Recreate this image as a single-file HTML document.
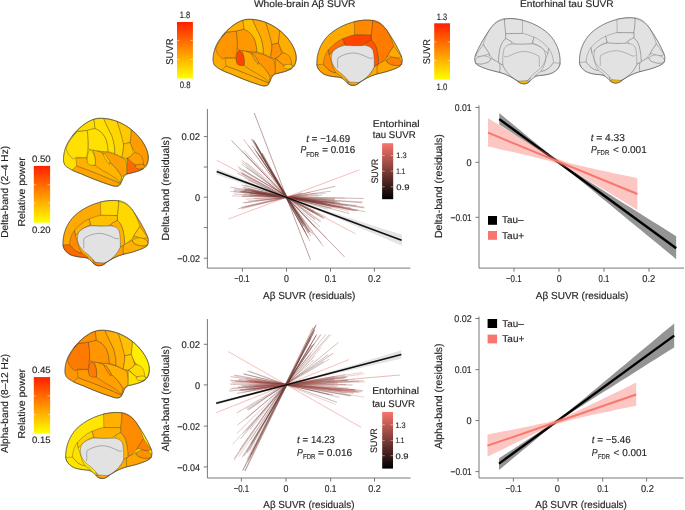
<!DOCTYPE html><html><head><meta charset="utf-8"><style>html,body{margin:0;padding:0;background:#fff;overflow:hidden}svg{display:block;will-change:transform}</style></head><body><svg width="685" height="510" viewBox="0 0 685 510" font-family="Liberation Sans, sans-serif" text-rendering="geometricPrecision"><style>text{stroke:#231f20;stroke-width:0.15px;paint-order:stroke}</style>
<rect width="685" height="510" fill="#fff"/>
<text x="253.90" y="7.40" font-size="9.8" textLength="101.60" lengthAdjust="spacingAndGlyphs" fill="#231f20">Whole-brain Aβ SUVR</text>
<text x="520.00" y="7.30" font-size="9.8" textLength="93.60" lengthAdjust="spacingAndGlyphs" fill="#231f20">Entorhinal tau SUVR</text>
<defs><linearGradient id="g1" x1="0" y1="0" x2="0" y2="1"><stop offset="0" stop-color="#ff1e00"/><stop offset="0.5" stop-color="#ff8f00"/><stop offset="1" stop-color="#ffff00"/></linearGradient></defs>
<rect x="177" y="22" width="15.9" height="56.5" fill="url(#g1)"/>
<line x1="177" y1="40.6" x2="179.5" y2="40.6" stroke="#fff" stroke-width="0.6" opacity="0.8"/>
<line x1="190.4" y1="40.6" x2="192.9" y2="40.6" stroke="#fff" stroke-width="0.6" opacity="0.8"/>
<line x1="177" y1="59.5" x2="179.5" y2="59.5" stroke="#fff" stroke-width="0.6" opacity="0.8"/>
<line x1="190.4" y1="59.5" x2="192.9" y2="59.5" stroke="#fff" stroke-width="0.6" opacity="0.8"/>
<text x="179.80" y="17.90" font-size="9.2" textLength="10.40" lengthAdjust="spacingAndGlyphs" fill="#231f20">1.8</text>
<text x="179.80" y="87.60" font-size="9.2" textLength="10.80" lengthAdjust="spacingAndGlyphs" fill="#231f20">0.8</text>
<text transform="translate(173.20,64.80) rotate(-90)" x="0.00" y="0" font-size="9.8" textLength="26.31" lengthAdjust="spacingAndGlyphs" fill="#231f20">SUVR</text>
<defs><linearGradient id="g2" x1="0" y1="0" x2="0" y2="1"><stop offset="0" stop-color="#ff1e00"/><stop offset="0.5" stop-color="#ff8f00"/><stop offset="1" stop-color="#ffff00"/></linearGradient></defs>
<rect x="434.2" y="23.3" width="15.8" height="56.4" fill="url(#g2)"/>
<line x1="434.2" y1="41.9" x2="436.7" y2="41.9" stroke="#fff" stroke-width="0.6" opacity="0.8"/>
<line x1="447.5" y1="41.9" x2="450.0" y2="41.9" stroke="#fff" stroke-width="0.6" opacity="0.8"/>
<line x1="434.2" y1="60.6" x2="436.7" y2="60.6" stroke="#fff" stroke-width="0.6" opacity="0.8"/>
<line x1="447.5" y1="60.6" x2="450.0" y2="60.6" stroke="#fff" stroke-width="0.6" opacity="0.8"/>
<text x="436.80" y="19.50" font-size="9.2" textLength="10.40" lengthAdjust="spacingAndGlyphs" fill="#231f20">1.3</text>
<text x="436.60" y="89.60" font-size="9.2" textLength="10.80" lengthAdjust="spacingAndGlyphs" fill="#231f20">1.0</text>
<text transform="translate(429.90,64.30) rotate(-90)" x="0.00" y="0" font-size="9.8" textLength="25.21" lengthAdjust="spacingAndGlyphs" fill="#231f20">SUVR</text>
<defs><linearGradient id="g3" x1="0" y1="0" x2="0" y2="1"><stop offset="0" stop-color="#ff1e00"/><stop offset="0.5" stop-color="#ff8f00"/><stop offset="1" stop-color="#ffff00"/></linearGradient></defs>
<rect x="33.8" y="165.9" width="16.3" height="56.8" fill="url(#g3)"/>
<line x1="33.8" y1="184.8" x2="36.3" y2="184.8" stroke="#fff" stroke-width="0.6" opacity="0.8"/>
<line x1="47.599999999999994" y1="184.8" x2="50.099999999999994" y2="184.8" stroke="#fff" stroke-width="0.6" opacity="0.8"/>
<line x1="33.8" y1="202.9" x2="36.3" y2="202.9" stroke="#fff" stroke-width="0.6" opacity="0.8"/>
<line x1="47.599999999999994" y1="202.9" x2="50.099999999999994" y2="202.9" stroke="#fff" stroke-width="0.6" opacity="0.8"/>
<text x="31.90" y="162.00" font-size="9.2" textLength="18.69" lengthAdjust="spacingAndGlyphs" fill="#231f20">0.50</text>
<text x="32.00" y="232.90" font-size="9.2" textLength="18.59" lengthAdjust="spacingAndGlyphs" fill="#231f20">0.20</text>
<text transform="translate(8.30,237.80) rotate(-90)" x="0.00" y="0" font-size="10" textLength="92.00" lengthAdjust="spacingAndGlyphs" fill="#231f20">Delta-band (2–4 Hz)</text>
<text transform="translate(25.20,226.60) rotate(-90)" x="0.00" y="0" font-size="10" textLength="69.39" lengthAdjust="spacingAndGlyphs" fill="#231f20">Relative power</text>
<defs><linearGradient id="g4" x1="0" y1="0" x2="0" y2="1"><stop offset="0" stop-color="#ff1e00"/><stop offset="0.5" stop-color="#ff8f00"/><stop offset="1" stop-color="#ffff00"/></linearGradient></defs>
<rect x="33.8" y="377.1" width="16.3" height="56.4" fill="url(#g4)"/>
<line x1="33.8" y1="395.9" x2="36.3" y2="395.9" stroke="#fff" stroke-width="0.6" opacity="0.8"/>
<line x1="47.599999999999994" y1="395.9" x2="50.099999999999994" y2="395.9" stroke="#fff" stroke-width="0.6" opacity="0.8"/>
<line x1="33.8" y1="414.7" x2="36.3" y2="414.7" stroke="#fff" stroke-width="0.6" opacity="0.8"/>
<line x1="47.599999999999994" y1="414.7" x2="50.099999999999994" y2="414.7" stroke="#fff" stroke-width="0.6" opacity="0.8"/>
<text x="31.90" y="372.60" font-size="9.2" textLength="18.69" lengthAdjust="spacingAndGlyphs" fill="#231f20">0.45</text>
<text x="32.00" y="443.40" font-size="9.2" textLength="18.59" lengthAdjust="spacingAndGlyphs" fill="#231f20">0.15</text>
<text transform="translate(8.30,452.90) rotate(-90)" x="0.00" y="0" font-size="10" textLength="99.09" lengthAdjust="spacingAndGlyphs" fill="#231f20">Alpha-band (8–12 Hz)</text>
<text transform="translate(25.20,438.50) rotate(-90)" x="0.00" y="0" font-size="10" textLength="69.59" lengthAdjust="spacingAndGlyphs" fill="#231f20">Relative power</text>
<g transform="translate(208,14) scale(0.1528350909368791)">
<path d="M33,300 C33,250 50,200 85,155 C120,105 180,50 250,35 C320,28 400,55 460,100 C520,145 565,210 576,270 C582,310 570,345 540,362 C510,378 470,385 440,392 C420,400 410,430 398,458 C390,472 370,474 350,468 C300,452 230,428 150,392 C105,375 65,360 42,335 C36,325 33,312 33,300 Z" fill="#ffaa00" stroke="#3a3a3a" stroke-width="0.35" vector-effect="non-scaling-stroke" stroke-linejoin="round"/>
<path d="M90,368 C100,355 110,345 118,340 C200,368 300,410 398,452 C392,468 375,474 350,468 C300,452 230,428 150,392 C125,383 105,376 90,368 Z" fill="#ffad00" stroke="#3a3a3a" stroke-width="0.35" vector-effect="non-scaling-stroke" stroke-linejoin="round"/>
<path d="M118,340 C116,320 114,300 112,290 L180,287 C195,320 210,335 235,335 C245,330 250,327 250,325 C280,335 310,350 340,370 C370,390 395,410 412,432 C405,442 400,448 398,452 C300,410 200,368 118,340 Z" fill="#ffaa00" stroke="#3a3a3a" stroke-width="0.35" vector-effect="non-scaling-stroke" stroke-linejoin="round"/>
<path d="M221,237 C265,244 300,250 330,256 C370,266 405,282 430,298 C440,330 442,360 440,392 C428,398 416,404 406,410 C390,376 360,340 330,318 C315,290 300,270 284,258 C265,250 240,242 221,237 Z" fill="#ff9600" stroke="#3a3a3a" stroke-width="0.35" vector-effect="non-scaling-stroke" stroke-linejoin="round"/>
<path d="M221,237 C245,241 268,250 284,258 C300,270 315,290 330,318 C360,340 390,376 406,410 C405,425 402,437 399,447 C385,432 370,420 354,411 C330,395 305,380 284,370 C265,357 250,346 235,336 C240,300 234,265 221,237 Z" fill="#ffaa00" stroke="#3a3a3a" stroke-width="0.35" vector-effect="non-scaling-stroke" stroke-linejoin="round"/>
<path d="M284,260 C292,262 298,264 302,266 C312,280 322,296 331,312 C331,320 330,326 328,330 C321,321 315,313 310,307 C300,290 290,273 284,260 Z" fill="#ffa000" stroke="#3a3a3a" stroke-width="0.35" vector-effect="non-scaling-stroke" stroke-linejoin="round"/>
<path d="M50,228 C62,192 88,152 122,120 L185,112 C192,150 193,200 190,230 C188,255 184,275 180,287 L118,285 C108,288 102,292 98,296 C76,282 58,262 50,228 Z" fill="#ff9500" stroke="#3a3a3a" stroke-width="0.35" vector-effect="non-scaling-stroke" stroke-linejoin="round"/>
<path d="M90,150 C125,105 180,55 228,40 C232,60 234,80 236,100 C220,104 200,108 185,112 L122,118 C110,128 100,138 90,150 Z" fill="#ffb000" stroke="#3a3a3a" stroke-width="0.35" vector-effect="non-scaling-stroke" stroke-linejoin="round"/>
<path d="M185,112 L236,100 C262,108 285,130 300,155 C312,180 318,210 320,248 C300,250 270,246 240,242 C225,238 205,236 192,232 C194,190 192,150 185,112 Z" fill="#ff9800" stroke="#3a3a3a" stroke-width="0.35" vector-effect="non-scaling-stroke" stroke-linejoin="round"/>
<path d="M228,40 C250,36 275,35 292,37 C305,70 325,110 345,150 C358,190 365,230 362,262 C350,258 335,252 320,248 C318,210 312,180 300,155 C285,130 262,108 236,100 C234,80 232,60 228,40 Z" fill="#ffbe00" stroke="#3a3a3a" stroke-width="0.35" vector-effect="non-scaling-stroke" stroke-linejoin="round"/>
<path d="M292,37 C320,39 350,45 378,55 C392,95 405,140 418,190 C420,220 415,250 408,285 C390,275 375,268 362,262 C365,230 358,190 345,150 C325,110 305,70 292,37 Z" fill="#ffaa00" stroke="#3a3a3a" stroke-width="0.35" vector-effect="non-scaling-stroke" stroke-linejoin="round"/>
<path d="M378,55 C410,68 440,85 468,108 C468,140 465,170 460,190 L418,200 C410,160 395,110 378,55 Z" fill="#ffa800" stroke="#3a3a3a" stroke-width="0.35" vector-effect="non-scaling-stroke" stroke-linejoin="round"/>
<path d="M468,108 C515,145 560,200 574,255 C580,290 575,320 560,340 L545,335 C540,300 520,270 495,255 C480,240 470,215 460,190 C465,165 468,135 468,108 Z" fill="#ffad00" stroke="#3a3a3a" stroke-width="0.35" vector-effect="non-scaling-stroke" stroke-linejoin="round"/>
<path d="M418,200 L460,190 C470,215 478,235 482,258 C470,275 455,285 440,292 C425,290 412,288 408,285 C415,255 420,225 418,200 Z" fill="#ff9000" stroke="#3a3a3a" stroke-width="0.35" vector-effect="non-scaling-stroke" stroke-linejoin="round"/>
<path d="M482,258 C500,252 520,262 535,280 C545,300 548,320 545,335 L495,335 C480,325 465,310 455,300 C450,295 445,293 440,292 C455,285 470,275 482,258 Z" fill="#ffa000" stroke="#3a3a3a" stroke-width="0.35" vector-effect="non-scaling-stroke" stroke-linejoin="round"/>
<path d="M440,292 C455,300 470,320 495,335 C505,345 520,356 545,358 C510,376 470,385 440,392 C442,360 442,320 440,292 Z" fill="#ff9c00" stroke="#3a3a3a" stroke-width="0.35" vector-effect="non-scaling-stroke" stroke-linejoin="round"/>
<path d="M492,340 C510,328 540,325 552,335 C556,348 545,358 525,360 C505,360 492,352 492,340 Z" fill="#ffc000" stroke="#3a3a3a" stroke-width="0.35" vector-effect="non-scaling-stroke" stroke-linejoin="round"/>
<path d="M203,238 C215,240 225,255 232,275 C238,295 240,320 235,335 C220,338 200,337 192,328 C184,315 183,295 187,275 C190,255 195,242 203,238 Z" fill="#ff4500" stroke="#3a3a3a" stroke-width="0.35" vector-effect="non-scaling-stroke" stroke-linejoin="round"/>
<path d="M33,300 C33,250 50,200 85,155 C120,105 180,50 250,35 C320,28 400,55 460,100 C520,145 565,210 576,270 C582,310 570,345 540,362 C510,378 470,385 440,392 C420,400 410,430 398,458 C390,472 370,474 350,468 C300,452 230,428 150,392 C105,375 65,360 42,335 C36,325 33,312 33,300 Z" fill="none" stroke="#3a3a3a" stroke-width="0.44999999999999996" vector-effect="non-scaling-stroke"/>
</g>
<g transform="translate(310,14) scale(0.1528350909368791)">
<path d="M45,330 C42,260 70,190 120,140 C180,85 260,50 350,40 C420,35 470,60 505,110 C540,160 575,220 598,275 C608,300 605,325 590,340 C560,360 500,378 440,392 C390,405 350,430 315,455 C295,470 265,473 244,451 C225,430 210,415 180,412 C130,410 80,395 58,365 C48,352 45,340 45,330 Z" fill="#ffaa00" stroke="#3a3a3a" stroke-width="0.35" vector-effect="non-scaling-stroke" stroke-linejoin="round"/>
<path d="M290,48 C330,42 370,38 410,40 C410,75 405,110 401,139 C370,138 330,137 292,137 Z" fill="#ff8800" stroke="#3a3a3a" stroke-width="0.35" vector-effect="non-scaling-stroke" stroke-linejoin="round"/>
<path d="M410,40 C450,45 480,70 505,110 C525,145 540,180 548,210 C530,240 512,260 505,280 C490,300 470,315 448,330 C448,300 445,260 435,225 C428,200 415,185 401,170 L401,139 C405,110 410,75 410,40 Z" fill="#ff7a00" stroke="#3a3a3a" stroke-width="0.35" vector-effect="non-scaling-stroke" stroke-linejoin="round"/>
<path d="M548,210 C565,235 585,260 598,280 C585,290 560,290 540,282 C528,276 515,270 505,280 C512,260 530,240 548,210 Z" fill="#ffaa00" stroke="#3a3a3a" stroke-width="0.35" vector-effect="non-scaling-stroke" stroke-linejoin="round"/>
<path d="M440,330 C470,315 490,305 500,300 C500,315 512,325 530,330 C555,338 580,340 600,330 C590,345 560,360 500,378 C470,385 450,390 440,392 C435,370 435,350 440,330 Z" fill="#ffa500" stroke="#3a3a3a" stroke-width="0.35" vector-effect="non-scaling-stroke" stroke-linejoin="round"/>
<path d="M500,300 C520,282 550,280 575,290 C595,298 605,315 600,330 C580,340 550,338 530,330 C512,325 500,315 500,300 Z" fill="#ff8000" stroke="#3a3a3a" stroke-width="0.35" vector-effect="non-scaling-stroke" stroke-linejoin="round"/>
<path d="M215,162 C250,148 275,138 292,137 C330,137 370,138 401,139 L401,170 C390,178 380,183 372,186 C360,196 350,203 340,207 C300,209 260,207 228,205 C224,190 220,175 215,162 Z" fill="#ff4400" stroke="#3a3a3a" stroke-width="0.35" vector-effect="non-scaling-stroke" stroke-linejoin="round"/>
<path d="M360,195 C375,182 390,175 401,170 C415,185 428,200 435,225 C445,260 448,300 448,330 C440,337 432,342 420,345 C415,300 400,240 360,195 Z" fill="#ff5500" stroke="#3a3a3a" stroke-width="0.35" vector-effect="non-scaling-stroke" stroke-linejoin="round"/>
<path d="M120,235 C140,210 175,180 215,160 C218,172 222,185 225,200 C195,210 170,225 150,245 C140,255 130,265 125,270 Z" fill="#ff7000" stroke="#3a3a3a" stroke-width="0.35" vector-effect="non-scaling-stroke" stroke-linejoin="round"/>
<path d="M88,328 C90,295 100,260 120,235 L125,270 C135,290 140,310 145,330 C150,350 160,370 170,385 C140,385 110,360 88,328 Z" fill="#ff8c00" stroke="#3a3a3a" stroke-width="0.35" vector-effect="non-scaling-stroke" stroke-linejoin="round"/>
<path d="M45,330 C55,332 70,330 88,328 C110,360 140,385 170,385 C185,395 200,405 210,415 C180,412 130,410 95,398 C70,385 50,360 45,330 Z" fill="#ffa000" stroke="#3a3a3a" stroke-width="0.35" vector-effect="non-scaling-stroke" stroke-linejoin="round"/>
<path d="M240,425 C250,440 265,452 285,455 C305,455 330,445 350,430 C380,410 405,380 420,345 C428,342 434,338 440,330 C438,350 436,370 440,392 C390,405 350,430 315,455 C295,470 265,473 244,451 Z" fill="#ffaa00" stroke="#3a3a3a" stroke-width="0.35" vector-effect="non-scaling-stroke" stroke-linejoin="round"/>
<path d="M150,245 C170,225 195,212 228,205 C260,207 300,209 340,207 C370,205 398,210 412,238 C420,270 422,310 420,345 C405,380 380,410 350,430 C330,445 305,455 285,455 C265,452 250,440 240,425 C225,405 205,390 185,375 C160,355 145,330 140,300 C138,280 142,260 150,245 Z" fill="#e2e2e2" stroke="#3a3a3a" stroke-width="0.35" vector-effect="non-scaling-stroke" stroke-linejoin="round"/>
<path d="M243,449 C262,444 295,445 322,452 C305,470 268,474 243,449 Z" fill="#ffa500" stroke="#3a3a3a" stroke-width="0.35" vector-effect="non-scaling-stroke" stroke-linejoin="round"/>
<path d="M180,355 C185,330 175,300 185,285 C220,265 250,255 290,255 C320,258 350,270 380,285 C395,292 405,292 412,285" fill="none" stroke="#3a3a3a" stroke-width="0.35" vector-effect="non-scaling-stroke"/>
<path d="M45,330 C42,260 70,190 120,140 C180,85 260,50 350,40 C420,35 470,60 505,110 C540,160 575,220 598,275 C608,300 605,325 590,340 C560,360 500,378 440,392 C390,405 350,430 315,455 C295,470 265,473 244,451 C225,430 210,415 180,412 C130,410 80,395 58,365 C48,352 45,340 45,330 Z" fill="none" stroke="#3a3a3a" stroke-width="0.44999999999999996" vector-effect="non-scaling-stroke"/>
</g>
<g transform="translate(58.3,112.9) scale(0.15589179275561668)">
<path d="M33,300 C33,250 50,200 85,155 C120,105 180,50 250,35 C320,28 400,55 460,100 C520,145 565,210 576,270 C582,310 570,345 540,362 C510,378 470,385 440,392 C420,400 410,430 398,458 C390,472 370,474 350,468 C300,452 230,428 150,392 C105,375 65,360 42,335 C36,325 33,312 33,300 Z" fill="#ffe000" stroke="#3a3a3a" stroke-width="0.35" vector-effect="non-scaling-stroke" stroke-linejoin="round"/>
<path d="M90,368 C100,355 110,345 118,340 C200,368 300,410 398,452 C392,468 375,474 350,468 C300,452 230,428 150,392 C125,383 105,376 90,368 Z" fill="#ffa500" stroke="#3a3a3a" stroke-width="0.35" vector-effect="non-scaling-stroke" stroke-linejoin="round"/>
<path d="M118,340 C116,320 114,300 112,290 L180,287 C195,320 210,335 235,335 C245,330 250,327 250,325 C280,335 310,350 340,370 C370,390 395,410 412,432 C405,442 400,448 398,452 C300,410 200,368 118,340 Z" fill="#ffb000" stroke="#3a3a3a" stroke-width="0.35" vector-effect="non-scaling-stroke" stroke-linejoin="round"/>
<path d="M221,237 C265,244 300,250 330,256 C370,266 405,282 430,298 C440,330 442,360 440,392 C428,398 416,404 406,410 C390,376 360,340 330,318 C315,290 300,270 284,258 C265,250 240,242 221,237 Z" fill="#ffa000" stroke="#3a3a3a" stroke-width="0.35" vector-effect="non-scaling-stroke" stroke-linejoin="round"/>
<path d="M221,237 C245,241 268,250 284,258 C300,270 315,290 330,318 C360,340 390,376 406,410 C405,425 402,437 399,447 C385,432 370,420 354,411 C330,395 305,380 284,370 C265,357 250,346 235,336 C240,300 234,265 221,237 Z" fill="#ffb400" stroke="#3a3a3a" stroke-width="0.35" vector-effect="non-scaling-stroke" stroke-linejoin="round"/>
<path d="M284,260 C292,262 298,264 302,266 C312,280 322,296 331,312 C331,320 330,326 328,330 C321,321 315,313 310,307 C300,290 290,273 284,260 Z" fill="#ffd000" stroke="#3a3a3a" stroke-width="0.35" vector-effect="non-scaling-stroke" stroke-linejoin="round"/>
<path d="M50,228 C62,192 88,152 122,120 L185,112 C192,150 193,200 190,230 C188,255 184,275 180,287 L118,285 C108,288 102,292 98,296 C76,282 58,262 50,228 Z" fill="#ffe000" stroke="#3a3a3a" stroke-width="0.35" vector-effect="non-scaling-stroke" stroke-linejoin="round"/>
<path d="M90,150 C125,105 180,55 228,40 C232,60 234,80 236,100 C220,104 200,108 185,112 L122,118 C110,128 100,138 90,150 Z" fill="#ffdc00" stroke="#3a3a3a" stroke-width="0.35" vector-effect="non-scaling-stroke" stroke-linejoin="round"/>
<path d="M185,112 L236,100 C262,108 285,130 300,155 C312,180 318,210 320,248 C300,250 270,246 240,242 C225,238 205,236 192,232 C194,190 192,150 185,112 Z" fill="#ffe000" stroke="#3a3a3a" stroke-width="0.35" vector-effect="non-scaling-stroke" stroke-linejoin="round"/>
<path d="M228,40 C250,36 275,35 292,37 C305,70 325,110 345,150 C358,190 365,230 362,262 C350,258 335,252 320,248 C318,210 312,180 300,155 C285,130 262,108 236,100 C234,80 232,60 228,40 Z" fill="#ffe000" stroke="#3a3a3a" stroke-width="0.35" vector-effect="non-scaling-stroke" stroke-linejoin="round"/>
<path d="M292,37 C320,39 350,45 378,55 C392,95 405,140 418,190 C420,220 415,250 408,285 C390,275 375,268 362,262 C365,230 358,190 345,150 C325,110 305,70 292,37 Z" fill="#ffd500" stroke="#3a3a3a" stroke-width="0.35" vector-effect="non-scaling-stroke" stroke-linejoin="round"/>
<path d="M378,55 C410,68 440,85 468,108 C468,140 465,170 460,190 L418,200 C410,160 395,110 378,55 Z" fill="#ffc800" stroke="#3a3a3a" stroke-width="0.35" vector-effect="non-scaling-stroke" stroke-linejoin="round"/>
<path d="M468,108 C515,145 560,200 574,255 C580,290 575,320 560,340 L545,335 C540,300 520,270 495,255 C480,240 470,215 460,190 C465,165 468,135 468,108 Z" fill="#ff9a00" stroke="#3a3a3a" stroke-width="0.35" vector-effect="non-scaling-stroke" stroke-linejoin="round"/>
<path d="M418,200 L460,190 C470,215 478,235 482,258 C470,275 455,285 440,292 C425,290 412,288 408,285 C415,255 420,225 418,200 Z" fill="#ffc000" stroke="#3a3a3a" stroke-width="0.35" vector-effect="non-scaling-stroke" stroke-linejoin="round"/>
<path d="M482,258 C500,252 520,262 535,280 C545,300 548,320 545,335 L495,335 C480,325 465,310 455,300 C450,295 445,293 440,292 C455,285 470,275 482,258 Z" fill="#ffa000" stroke="#3a3a3a" stroke-width="0.35" vector-effect="non-scaling-stroke" stroke-linejoin="round"/>
<path d="M440,292 C455,300 470,320 495,335 C505,345 520,356 545,358 C510,376 470,385 440,392 C442,360 442,320 440,292 Z" fill="#ff6a00" stroke="#3a3a3a" stroke-width="0.35" vector-effect="non-scaling-stroke" stroke-linejoin="round"/>
<path d="M492,340 C510,328 540,325 552,335 C556,348 545,358 525,360 C505,360 492,352 492,340 Z" fill="#ff9000" stroke="#3a3a3a" stroke-width="0.35" vector-effect="non-scaling-stroke" stroke-linejoin="round"/>
<path d="M203,238 C215,240 225,255 232,275 C238,295 240,320 235,335 C220,338 200,337 192,328 C184,315 183,295 187,275 C190,255 195,242 203,238 Z" fill="#ffd800" stroke="#3a3a3a" stroke-width="0.35" vector-effect="non-scaling-stroke" stroke-linejoin="round"/>
<path d="M33,300 C33,250 50,200 85,155 C120,105 180,50 250,35 C320,28 400,55 460,100 C520,145 565,210 576,270 C582,310 570,345 540,362 C510,378 470,385 440,392 C420,400 410,430 398,458 C390,472 370,474 350,468 C300,452 230,428 150,392 C105,375 65,360 42,335 C36,325 33,312 33,300 Z" fill="none" stroke="#3a3a3a" stroke-width="0.44999999999999996" vector-effect="non-scaling-stroke"/>
</g>
<g transform="translate(56.1,194.4) scale(0.1528350909368791)">
<path d="M45,330 C42,260 70,190 120,140 C180,85 260,50 350,40 C420,35 470,60 505,110 C540,160 575,220 598,275 C608,300 605,325 590,340 C560,360 500,378 440,392 C390,405 350,430 315,455 C295,470 265,473 244,451 C225,430 210,415 180,412 C130,410 80,395 58,365 C48,352 45,340 45,330 Z" fill="#ffaa00" stroke="#3a3a3a" stroke-width="0.35" vector-effect="non-scaling-stroke" stroke-linejoin="round"/>
<path d="M290,48 C330,42 370,38 410,40 C410,75 405,110 401,139 C370,138 330,137 292,137 Z" fill="#ffd800" stroke="#3a3a3a" stroke-width="0.35" vector-effect="non-scaling-stroke" stroke-linejoin="round"/>
<path d="M410,40 C450,45 480,70 505,110 C525,145 540,180 548,210 C530,240 512,260 505,280 C490,300 470,315 448,330 C448,300 445,260 435,225 C428,200 415,185 401,170 L401,139 C405,110 410,75 410,40 Z" fill="#ffd800" stroke="#3a3a3a" stroke-width="0.35" vector-effect="non-scaling-stroke" stroke-linejoin="round"/>
<path d="M548,210 C565,235 585,260 598,280 C585,290 560,290 540,282 C528,276 515,270 505,280 C512,260 530,240 548,210 Z" fill="#ffc800" stroke="#3a3a3a" stroke-width="0.35" vector-effect="non-scaling-stroke" stroke-linejoin="round"/>
<path d="M440,330 C470,315 490,305 500,300 C500,315 512,325 530,330 C555,338 580,340 600,330 C590,345 560,360 500,378 C470,385 450,390 440,392 C435,370 435,350 440,330 Z" fill="#ffb000" stroke="#3a3a3a" stroke-width="0.35" vector-effect="non-scaling-stroke" stroke-linejoin="round"/>
<path d="M500,300 C520,282 550,280 575,290 C595,298 605,315 600,330 C580,340 550,338 530,330 C512,325 500,315 500,300 Z" fill="#ffc000" stroke="#3a3a3a" stroke-width="0.35" vector-effect="non-scaling-stroke" stroke-linejoin="round"/>
<path d="M215,162 C250,148 275,138 292,137 C330,137 370,138 401,139 L401,170 C390,178 380,183 372,186 C360,196 350,203 340,207 C300,209 260,207 228,205 C224,190 220,175 215,162 Z" fill="#ffc000" stroke="#3a3a3a" stroke-width="0.35" vector-effect="non-scaling-stroke" stroke-linejoin="round"/>
<path d="M360,195 C375,182 390,175 401,170 C415,185 428,200 435,225 C445,260 448,300 448,330 C440,337 432,342 420,345 C415,300 400,240 360,195 Z" fill="#ffb000" stroke="#3a3a3a" stroke-width="0.35" vector-effect="non-scaling-stroke" stroke-linejoin="round"/>
<path d="M120,235 C140,210 175,180 215,160 C218,172 222,185 225,200 C195,210 170,225 150,245 C140,255 130,265 125,270 Z" fill="#ffb000" stroke="#3a3a3a" stroke-width="0.35" vector-effect="non-scaling-stroke" stroke-linejoin="round"/>
<path d="M88,328 C90,295 100,260 120,235 L125,270 C135,290 140,310 145,330 C150,350 160,370 170,385 C140,385 110,360 88,328 Z" fill="#ff8c00" stroke="#3a3a3a" stroke-width="0.35" vector-effect="non-scaling-stroke" stroke-linejoin="round"/>
<path d="M45,330 C55,332 70,330 88,328 C110,360 140,385 170,385 C185,395 200,405 210,415 C180,412 130,410 95,398 C70,385 50,360 45,330 Z" fill="#ff6a00" stroke="#3a3a3a" stroke-width="0.35" vector-effect="non-scaling-stroke" stroke-linejoin="round"/>
<path d="M240,425 C250,440 265,452 285,455 C305,455 330,445 350,430 C380,410 405,380 420,345 C428,342 434,338 440,330 C438,350 436,370 440,392 C390,405 350,430 315,455 C295,470 265,473 244,451 Z" fill="#ffa000" stroke="#3a3a3a" stroke-width="0.35" vector-effect="non-scaling-stroke" stroke-linejoin="round"/>
<path d="M150,245 C170,225 195,212 228,205 C260,207 300,209 340,207 C370,205 398,210 412,238 C420,270 422,310 420,345 C405,380 380,410 350,430 C330,445 305,455 285,455 C265,452 250,440 240,425 C225,405 205,390 185,375 C160,355 145,330 140,300 C138,280 142,260 150,245 Z" fill="#e2e2e2" stroke="#3a3a3a" stroke-width="0.35" vector-effect="non-scaling-stroke" stroke-linejoin="round"/>
<path d="M243,449 C262,444 295,445 322,452 C305,470 268,474 243,449 Z" fill="#ff8000" stroke="#3a3a3a" stroke-width="0.35" vector-effect="non-scaling-stroke" stroke-linejoin="round"/>
<path d="M180,355 C185,330 175,300 185,285 C220,265 250,255 290,255 C320,258 350,270 380,285 C395,292 405,292 412,285" fill="none" stroke="#3a3a3a" stroke-width="0.35" vector-effect="non-scaling-stroke"/>
<path d="M45,330 C42,260 70,190 120,140 C180,85 260,50 350,40 C420,35 470,60 505,110 C540,160 575,220 598,275 C608,300 605,325 590,340 C560,360 500,378 440,392 C390,405 350,430 315,455 C295,470 265,473 244,451 C225,430 210,415 180,412 C130,410 80,395 58,365 C48,352 45,340 45,330 Z" fill="none" stroke="#3a3a3a" stroke-width="0.44999999999999996" vector-effect="non-scaling-stroke"/>
</g>
<g transform="translate(59.8,324.9) scale(0.15512761730093227)">
<path d="M33,300 C33,250 50,200 85,155 C120,105 180,50 250,35 C320,28 400,55 460,100 C520,145 565,210 576,270 C582,310 570,345 540,362 C510,378 470,385 440,392 C420,400 410,430 398,458 C390,472 370,474 350,468 C300,452 230,428 150,392 C105,375 65,360 42,335 C36,325 33,312 33,300 Z" fill="#ff9500" stroke="#3a3a3a" stroke-width="0.35" vector-effect="non-scaling-stroke" stroke-linejoin="round"/>
<path d="M90,368 C100,355 110,345 118,340 C200,368 300,410 398,452 C392,468 375,474 350,468 C300,452 230,428 150,392 C125,383 105,376 90,368 Z" fill="#ffa200" stroke="#3a3a3a" stroke-width="0.35" vector-effect="non-scaling-stroke" stroke-linejoin="round"/>
<path d="M118,340 C116,320 114,300 112,290 L180,287 C195,320 210,335 235,335 C245,330 250,327 250,325 C280,335 310,350 340,370 C370,390 395,410 412,432 C405,442 400,448 398,452 C300,410 200,368 118,340 Z" fill="#ff9800" stroke="#3a3a3a" stroke-width="0.35" vector-effect="non-scaling-stroke" stroke-linejoin="round"/>
<path d="M221,237 C265,244 300,250 330,256 C370,266 405,282 430,298 C440,330 442,360 440,392 C428,398 416,404 406,410 C390,376 360,340 330,318 C315,290 300,270 284,258 C265,250 240,242 221,237 Z" fill="#ffb000" stroke="#3a3a3a" stroke-width="0.35" vector-effect="non-scaling-stroke" stroke-linejoin="round"/>
<path d="M221,237 C245,241 268,250 284,258 C300,270 315,290 330,318 C360,340 390,376 406,410 C405,425 402,437 399,447 C385,432 370,420 354,411 C330,395 305,380 284,370 C265,357 250,346 235,336 C240,300 234,265 221,237 Z" fill="#ffa000" stroke="#3a3a3a" stroke-width="0.35" vector-effect="non-scaling-stroke" stroke-linejoin="round"/>
<path d="M284,260 C292,262 298,264 302,266 C312,280 322,296 331,312 C331,320 330,326 328,330 C321,321 315,313 310,307 C300,290 290,273 284,260 Z" fill="#ff8c00" stroke="#3a3a3a" stroke-width="0.35" vector-effect="non-scaling-stroke" stroke-linejoin="round"/>
<path d="M50,228 C62,192 88,152 122,120 L185,112 C192,150 193,200 190,230 C188,255 184,275 180,287 L118,285 C108,288 102,292 98,296 C76,282 58,262 50,228 Z" fill="#ff7a00" stroke="#3a3a3a" stroke-width="0.35" vector-effect="non-scaling-stroke" stroke-linejoin="round"/>
<path d="M90,150 C125,105 180,55 228,40 C232,60 234,80 236,100 C220,104 200,108 185,112 L122,118 C110,128 100,138 90,150 Z" fill="#ff9000" stroke="#3a3a3a" stroke-width="0.35" vector-effect="non-scaling-stroke" stroke-linejoin="round"/>
<path d="M185,112 L236,100 C262,108 285,130 300,155 C312,180 318,210 320,248 C300,250 270,246 240,242 C225,238 205,236 192,232 C194,190 192,150 185,112 Z" fill="#ff9500" stroke="#3a3a3a" stroke-width="0.35" vector-effect="non-scaling-stroke" stroke-linejoin="round"/>
<path d="M228,40 C250,36 275,35 292,37 C305,70 325,110 345,150 C358,190 365,230 362,262 C350,258 335,252 320,248 C318,210 312,180 300,155 C285,130 262,108 236,100 C234,80 232,60 228,40 Z" fill="#ffa500" stroke="#3a3a3a" stroke-width="0.35" vector-effect="non-scaling-stroke" stroke-linejoin="round"/>
<path d="M292,37 C320,39 350,45 378,55 C392,95 405,140 418,190 C420,220 415,250 408,285 C390,275 375,268 362,262 C365,230 358,190 345,150 C325,110 305,70 292,37 Z" fill="#ffb000" stroke="#3a3a3a" stroke-width="0.35" vector-effect="non-scaling-stroke" stroke-linejoin="round"/>
<path d="M378,55 C410,68 440,85 468,108 C468,140 465,170 460,190 L418,200 C410,160 395,110 378,55 Z" fill="#ffc000" stroke="#3a3a3a" stroke-width="0.35" vector-effect="non-scaling-stroke" stroke-linejoin="round"/>
<path d="M468,108 C515,145 560,200 574,255 C580,290 575,320 560,340 L545,335 C540,300 520,270 495,255 C480,240 470,215 460,190 C465,165 468,135 468,108 Z" fill="#ffee00" stroke="#3a3a3a" stroke-width="0.35" vector-effect="non-scaling-stroke" stroke-linejoin="round"/>
<path d="M418,200 L460,190 C470,215 478,235 482,258 C470,275 455,285 440,292 C425,290 412,288 408,285 C415,255 420,225 418,200 Z" fill="#ffc800" stroke="#3a3a3a" stroke-width="0.35" vector-effect="non-scaling-stroke" stroke-linejoin="round"/>
<path d="M482,258 C500,252 520,262 535,280 C545,300 548,320 545,335 L495,335 C480,325 465,310 455,300 C450,295 445,293 440,292 C455,285 470,275 482,258 Z" fill="#ffd800" stroke="#3a3a3a" stroke-width="0.35" vector-effect="non-scaling-stroke" stroke-linejoin="round"/>
<path d="M440,292 C455,300 470,320 495,335 C505,345 520,356 545,358 C510,376 470,385 440,392 C442,360 442,320 440,292 Z" fill="#ffe000" stroke="#3a3a3a" stroke-width="0.35" vector-effect="non-scaling-stroke" stroke-linejoin="round"/>
<path d="M492,340 C510,328 540,325 552,335 C556,348 545,358 525,360 C505,360 492,352 492,340 Z" fill="#ffe000" stroke="#3a3a3a" stroke-width="0.35" vector-effect="non-scaling-stroke" stroke-linejoin="round"/>
<path d="M203,238 C215,240 225,255 232,275 C238,295 240,320 235,335 C220,338 200,337 192,328 C184,315 183,295 187,275 C190,255 195,242 203,238 Z" fill="#ff7a00" stroke="#3a3a3a" stroke-width="0.35" vector-effect="non-scaling-stroke" stroke-linejoin="round"/>
<path d="M33,300 C33,250 50,200 85,155 C120,105 180,50 250,35 C320,28 400,55 460,100 C520,145 565,210 576,270 C582,310 570,345 540,362 C510,378 470,385 440,392 C420,400 410,430 398,458 C390,472 370,474 350,468 C300,452 230,428 150,392 C105,375 65,360 42,335 C36,325 33,312 33,300 Z" fill="none" stroke="#3a3a3a" stroke-width="0.44999999999999996" vector-effect="non-scaling-stroke"/>
</g>
<g transform="translate(58.8,406.35) scale(0.1543634418462479)">
<path d="M45,330 C42,260 70,190 120,140 C180,85 260,50 350,40 C420,35 470,60 505,110 C540,160 575,220 598,275 C608,300 605,325 590,340 C560,360 500,378 440,392 C390,405 350,430 315,455 C295,470 265,473 244,451 C225,430 210,415 180,412 C130,410 80,395 58,365 C48,352 45,340 45,330 Z" fill="#ffe600" stroke="#3a3a3a" stroke-width="0.35" vector-effect="non-scaling-stroke" stroke-linejoin="round"/>
<path d="M290,48 C330,42 370,38 410,40 C410,75 405,110 401,139 C370,138 330,137 292,137 Z" fill="#ffb000" stroke="#3a3a3a" stroke-width="0.35" vector-effect="non-scaling-stroke" stroke-linejoin="round"/>
<path d="M410,40 C450,45 480,70 505,110 C525,145 540,180 548,210 C530,240 512,260 505,280 C490,300 470,315 448,330 C448,300 445,260 435,225 C428,200 415,185 401,170 L401,139 C405,110 410,75 410,40 Z" fill="#ff8c00" stroke="#3a3a3a" stroke-width="0.35" vector-effect="non-scaling-stroke" stroke-linejoin="round"/>
<path d="M548,210 C565,235 585,260 598,280 C585,290 560,290 540,282 C528,276 515,270 505,280 C512,260 530,240 548,210 Z" fill="#ff8000" stroke="#3a3a3a" stroke-width="0.35" vector-effect="non-scaling-stroke" stroke-linejoin="round"/>
<path d="M440,330 C470,315 490,305 500,300 C500,315 512,325 530,330 C555,338 580,340 600,330 C590,345 560,360 500,378 C470,385 450,390 440,392 C435,370 435,350 440,330 Z" fill="#ffa500" stroke="#3a3a3a" stroke-width="0.35" vector-effect="non-scaling-stroke" stroke-linejoin="round"/>
<path d="M500,300 C520,282 550,280 575,290 C595,298 605,315 600,330 C580,340 550,338 530,330 C512,325 500,315 500,300 Z" fill="#ff9000" stroke="#3a3a3a" stroke-width="0.35" vector-effect="non-scaling-stroke" stroke-linejoin="round"/>
<path d="M215,162 C250,148 275,138 292,137 C330,137 370,138 401,139 L401,170 C390,178 380,183 372,186 C360,196 350,203 340,207 C300,209 260,207 228,205 C224,190 220,175 215,162 Z" fill="#ffb000" stroke="#3a3a3a" stroke-width="0.35" vector-effect="non-scaling-stroke" stroke-linejoin="round"/>
<path d="M360,195 C375,182 390,175 401,170 C415,185 428,200 435,225 C445,260 448,300 448,330 C440,337 432,342 420,345 C415,300 400,240 360,195 Z" fill="#ffb000" stroke="#3a3a3a" stroke-width="0.35" vector-effect="non-scaling-stroke" stroke-linejoin="round"/>
<path d="M120,235 C140,210 175,180 215,160 C218,172 222,185 225,200 C195,210 170,225 150,245 C140,255 130,265 125,270 Z" fill="#ffd000" stroke="#3a3a3a" stroke-width="0.35" vector-effect="non-scaling-stroke" stroke-linejoin="round"/>
<path d="M88,328 C90,295 100,260 120,235 L125,270 C135,290 140,310 145,330 C150,350 160,370 170,385 C140,385 110,360 88,328 Z" fill="#ffe000" stroke="#3a3a3a" stroke-width="0.35" vector-effect="non-scaling-stroke" stroke-linejoin="round"/>
<path d="M45,330 C55,332 70,330 88,328 C110,360 140,385 170,385 C185,395 200,405 210,415 C180,412 130,410 95,398 C70,385 50,360 45,330 Z" fill="#ffe600" stroke="#3a3a3a" stroke-width="0.35" vector-effect="non-scaling-stroke" stroke-linejoin="round"/>
<path d="M240,425 C250,440 265,452 285,455 C305,455 330,445 350,430 C380,410 405,380 420,345 C428,342 434,338 440,330 C438,350 436,370 440,392 C390,405 350,430 315,455 C295,470 265,473 244,451 Z" fill="#ffaa00" stroke="#3a3a3a" stroke-width="0.35" vector-effect="non-scaling-stroke" stroke-linejoin="round"/>
<path d="M150,245 C170,225 195,212 228,205 C260,207 300,209 340,207 C370,205 398,210 412,238 C420,270 422,310 420,345 C405,380 380,410 350,430 C330,445 305,455 285,455 C265,452 250,440 240,425 C225,405 205,390 185,375 C160,355 145,330 140,300 C138,280 142,260 150,245 Z" fill="#e2e2e2" stroke="#3a3a3a" stroke-width="0.35" vector-effect="non-scaling-stroke" stroke-linejoin="round"/>
<path d="M243,449 C262,444 295,445 322,452 C305,470 268,474 243,449 Z" fill="#ffaa00" stroke="#3a3a3a" stroke-width="0.35" vector-effect="non-scaling-stroke" stroke-linejoin="round"/>
<path d="M180,355 C185,330 175,300 185,285 C220,265 250,255 290,255 C320,258 350,270 380,285 C395,292 405,292 412,285" fill="none" stroke="#3a3a3a" stroke-width="0.35" vector-effect="non-scaling-stroke"/>
<path d="M45,330 C42,260 70,190 120,140 C180,85 260,50 350,40 C420,35 470,60 505,110 C540,160 575,220 598,275 C608,300 605,325 590,340 C560,360 500,378 440,392 C390,405 350,430 315,455 C295,470 265,473 244,451 C225,430 210,415 180,412 C130,410 80,395 58,365 C48,352 45,340 45,330 Z" fill="none" stroke="#3a3a3a" stroke-width="0.44999999999999996" vector-effect="non-scaling-stroke"/>
</g>
<g transform="translate(572.6,11.7) scale(0.1528350909368791)">
<path d="M45,330 C42,260 70,190 120,140 C180,85 260,50 350,40 C420,35 470,60 505,110 C540,160 575,220 598,275 C608,300 605,325 590,340 C560,360 500,378 440,392 C390,405 350,430 315,455 C295,470 265,473 244,451 C225,430 210,415 180,412 C130,410 80,395 58,365 C48,352 45,340 45,330 Z" fill="#e2e2e2" stroke="#404040" stroke-width="0.3" vector-effect="non-scaling-stroke" stroke-linejoin="round"/>
<path d="M290,48 C330,42 370,38 410,40 C410,75 405,110 401,139 C370,138 330,137 292,137 Z" fill="#e2e2e2" stroke="#404040" stroke-width="0.3" vector-effect="non-scaling-stroke" stroke-linejoin="round"/>
<path d="M410,40 C450,45 480,70 505,110 C525,145 540,180 548,210 C530,240 512,260 505,280 C490,300 470,315 448,330 C448,300 445,260 435,225 C428,200 415,185 401,170 L401,139 C405,110 410,75 410,40 Z" fill="#e2e2e2" stroke="#404040" stroke-width="0.3" vector-effect="non-scaling-stroke" stroke-linejoin="round"/>
<path d="M548,210 C565,235 585,260 598,280 C585,290 560,290 540,282 C528,276 515,270 505,280 C512,260 530,240 548,210 Z" fill="#e2e2e2" stroke="#404040" stroke-width="0.3" vector-effect="non-scaling-stroke" stroke-linejoin="round"/>
<path d="M440,330 C470,315 490,305 500,300 C500,315 512,325 530,330 C555,338 580,340 600,330 C590,345 560,360 500,378 C470,385 450,390 440,392 C435,370 435,350 440,330 Z" fill="#e2e2e2" stroke="#404040" stroke-width="0.3" vector-effect="non-scaling-stroke" stroke-linejoin="round"/>
<path d="M500,300 C520,282 550,280 575,290 C595,298 605,315 600,330 C580,340 550,338 530,330 C512,325 500,315 500,300 Z" fill="#e2e2e2" stroke="#404040" stroke-width="0.3" vector-effect="non-scaling-stroke" stroke-linejoin="round"/>
<path d="M215,162 C250,148 275,138 292,137 C330,137 370,138 401,139 L401,170 C390,178 380,183 372,186 C360,196 350,203 340,207 C300,209 260,207 228,205 C224,190 220,175 215,162 Z" fill="#e2e2e2" stroke="#404040" stroke-width="0.3" vector-effect="non-scaling-stroke" stroke-linejoin="round"/>
<path d="M360,195 C375,182 390,175 401,170 C415,185 428,200 435,225 C445,260 448,300 448,330 C440,337 432,342 420,345 C415,300 400,240 360,195 Z" fill="#e2e2e2" stroke="#404040" stroke-width="0.3" vector-effect="non-scaling-stroke" stroke-linejoin="round"/>
<path d="M120,235 C140,210 175,180 215,160 C218,172 222,185 225,200 C195,210 170,225 150,245 C140,255 130,265 125,270 Z" fill="#e2e2e2" stroke="#404040" stroke-width="0.3" vector-effect="non-scaling-stroke" stroke-linejoin="round"/>
<path d="M88,328 C90,295 100,260 120,235 L125,270 C135,290 140,310 145,330 C150,350 160,370 170,385 C140,385 110,360 88,328 Z" fill="#e2e2e2" stroke="#404040" stroke-width="0.3" vector-effect="non-scaling-stroke" stroke-linejoin="round"/>
<path d="M45,330 C55,332 70,330 88,328 C110,360 140,385 170,385 C185,395 200,405 210,415 C180,412 130,410 95,398 C70,385 50,360 45,330 Z" fill="#e2e2e2" stroke="#404040" stroke-width="0.3" vector-effect="non-scaling-stroke" stroke-linejoin="round"/>
<path d="M240,425 C250,440 265,452 285,455 C305,455 330,445 350,430 C380,410 405,380 420,345 C428,342 434,338 440,330 C438,350 436,370 440,392 C390,405 350,430 315,455 C295,470 265,473 244,451 Z" fill="#e2e2e2" stroke="#404040" stroke-width="0.3" vector-effect="non-scaling-stroke" stroke-linejoin="round"/>
<path d="M150,245 C170,225 195,212 228,205 C260,207 300,209 340,207 C370,205 398,210 412,238 C420,270 422,310 420,345 C405,380 380,410 350,430 C330,445 305,455 285,455 C265,452 250,440 240,425 C225,405 205,390 185,375 C160,355 145,330 140,300 C138,280 142,260 150,245 Z" fill="#e2e2e2" stroke="#404040" stroke-width="0.3" vector-effect="non-scaling-stroke" stroke-linejoin="round"/>
<path d="M243,449 C262,444 295,445 322,452 C305,470 268,474 243,449 Z" fill="#f5b800" stroke="#404040" stroke-width="0.3" vector-effect="non-scaling-stroke" stroke-linejoin="round"/>
<path d="M180,355 C185,330 175,300 185,285 C220,265 250,255 290,255 C320,258 350,270 380,285 C395,292 405,292 412,285" fill="none" stroke="#404040" stroke-width="0.3" vector-effect="non-scaling-stroke"/>
<path d="M45,330 C42,260 70,190 120,140 C180,85 260,50 350,40 C420,35 470,60 505,110 C540,160 575,220 598,275 C608,300 605,325 590,340 C560,360 500,378 440,392 C390,405 350,430 315,455 C295,470 265,473 244,451 C225,430 210,415 180,412 C130,410 80,395 58,365 C48,352 45,340 45,330 Z" fill="none" stroke="#404040" stroke-width="0.4" vector-effect="non-scaling-stroke"/>
</g>
<g transform="translate(567,12.5) scale(-0.1528350909368791,0.1528350909368791)">
<path d="M45,330 C42,260 70,190 120,140 C180,85 260,50 350,40 C420,35 470,60 505,110 C540,160 575,220 598,275 C608,300 605,325 590,340 C560,360 500,378 440,392 C390,405 350,430 315,455 C295,470 265,473 244,451 C225,430 210,415 180,412 C130,410 80,395 58,365 C48,352 45,340 45,330 Z" fill="#e2e2e2" stroke="#404040" stroke-width="0.3" vector-effect="non-scaling-stroke" stroke-linejoin="round"/>
<path d="M290,48 C330,42 370,38 410,40 C410,75 405,110 401,139 C370,138 330,137 292,137 Z" fill="#e2e2e2" stroke="#404040" stroke-width="0.3" vector-effect="non-scaling-stroke" stroke-linejoin="round"/>
<path d="M410,40 C450,45 480,70 505,110 C525,145 540,180 548,210 C530,240 512,260 505,280 C490,300 470,315 448,330 C448,300 445,260 435,225 C428,200 415,185 401,170 L401,139 C405,110 410,75 410,40 Z" fill="#e2e2e2" stroke="#404040" stroke-width="0.3" vector-effect="non-scaling-stroke" stroke-linejoin="round"/>
<path d="M548,210 C565,235 585,260 598,280 C585,290 560,290 540,282 C528,276 515,270 505,280 C512,260 530,240 548,210 Z" fill="#e2e2e2" stroke="#404040" stroke-width="0.3" vector-effect="non-scaling-stroke" stroke-linejoin="round"/>
<path d="M440,330 C470,315 490,305 500,300 C500,315 512,325 530,330 C555,338 580,340 600,330 C590,345 560,360 500,378 C470,385 450,390 440,392 C435,370 435,350 440,330 Z" fill="#e2e2e2" stroke="#404040" stroke-width="0.3" vector-effect="non-scaling-stroke" stroke-linejoin="round"/>
<path d="M500,300 C520,282 550,280 575,290 C595,298 605,315 600,330 C580,340 550,338 530,330 C512,325 500,315 500,300 Z" fill="#e2e2e2" stroke="#404040" stroke-width="0.3" vector-effect="non-scaling-stroke" stroke-linejoin="round"/>
<path d="M215,162 C250,148 275,138 292,137 C330,137 370,138 401,139 L401,170 C390,178 380,183 372,186 C360,196 350,203 340,207 C300,209 260,207 228,205 C224,190 220,175 215,162 Z" fill="#e2e2e2" stroke="#404040" stroke-width="0.3" vector-effect="non-scaling-stroke" stroke-linejoin="round"/>
<path d="M360,195 C375,182 390,175 401,170 C415,185 428,200 435,225 C445,260 448,300 448,330 C440,337 432,342 420,345 C415,300 400,240 360,195 Z" fill="#e2e2e2" stroke="#404040" stroke-width="0.3" vector-effect="non-scaling-stroke" stroke-linejoin="round"/>
<path d="M120,235 C140,210 175,180 215,160 C218,172 222,185 225,200 C195,210 170,225 150,245 C140,255 130,265 125,270 Z" fill="#e2e2e2" stroke="#404040" stroke-width="0.3" vector-effect="non-scaling-stroke" stroke-linejoin="round"/>
<path d="M88,328 C90,295 100,260 120,235 L125,270 C135,290 140,310 145,330 C150,350 160,370 170,385 C140,385 110,360 88,328 Z" fill="#e2e2e2" stroke="#404040" stroke-width="0.3" vector-effect="non-scaling-stroke" stroke-linejoin="round"/>
<path d="M45,330 C55,332 70,330 88,328 C110,360 140,385 170,385 C185,395 200,405 210,415 C180,412 130,410 95,398 C70,385 50,360 45,330 Z" fill="#e2e2e2" stroke="#404040" stroke-width="0.3" vector-effect="non-scaling-stroke" stroke-linejoin="round"/>
<path d="M240,425 C250,440 265,452 285,455 C305,455 330,445 350,430 C380,410 405,380 420,345 C428,342 434,338 440,330 C438,350 436,370 440,392 C390,405 350,430 315,455 C295,470 265,473 244,451 Z" fill="#e2e2e2" stroke="#404040" stroke-width="0.3" vector-effect="non-scaling-stroke" stroke-linejoin="round"/>
<path d="M150,245 C170,225 195,212 228,205 C260,207 300,209 340,207 C370,205 398,210 412,238 C420,270 422,310 420,345 C405,380 380,410 350,430 C330,445 305,455 285,455 C265,452 250,440 240,425 C225,405 205,390 185,375 C160,355 145,330 140,300 C138,280 142,260 150,245 Z" fill="#e2e2e2" stroke="#404040" stroke-width="0.3" vector-effect="non-scaling-stroke" stroke-linejoin="round"/>
<path d="M243,449 C262,444 295,445 322,452 C305,470 268,474 243,449 Z" fill="#f5b800" stroke="#404040" stroke-width="0.3" vector-effect="non-scaling-stroke" stroke-linejoin="round"/>
<path d="M180,355 C185,330 175,300 185,285 C220,265 250,255 290,255 C320,258 350,270 380,285 C395,292 405,292 412,285" fill="none" stroke="#404040" stroke-width="0.3" vector-effect="non-scaling-stroke"/>
<path d="M45,330 C42,260 70,190 120,140 C180,85 260,50 350,40 C420,35 470,60 505,110 C540,160 575,220 598,275 C608,300 605,325 590,340 C560,360 500,378 440,392 C390,405 350,430 315,455 C295,470 265,473 244,451 C225,430 210,415 180,412 C130,410 80,395 58,365 C48,352 45,340 45,330 Z" fill="none" stroke="#404040" stroke-width="0.4" vector-effect="non-scaling-stroke"/>
</g>
<line x1="252.4" y1="145.8" x2="310.2" y2="232.7" stroke="rgb(74,35,32)" stroke-width="0.36" stroke-opacity="0.85"/>
<line x1="253.2" y1="139.9" x2="303.6" y2="226.1" stroke="rgb(52,24,23)" stroke-width="0.36" stroke-opacity="0.95"/>
<line x1="261.7" y1="155.5" x2="306.2" y2="233.5" stroke="rgb(121,57,53)" stroke-width="0.36" stroke-opacity="0.77"/>
<line x1="262.3" y1="153.0" x2="303.0" y2="226.5" stroke="rgb(103,49,45)" stroke-width="0.36" stroke-opacity="0.98"/>
<line x1="257.4" y1="152.5" x2="302.8" y2="222.2" stroke="rgb(71,34,31)" stroke-width="0.36" stroke-opacity="0.83"/>
<line x1="260.5" y1="155.4" x2="305.5" y2="224.7" stroke="rgb(95,45,41)" stroke-width="0.36" stroke-opacity="0.79"/>
<line x1="255.2" y1="142.8" x2="308.3" y2="237.6" stroke="rgb(68,32,29)" stroke-width="0.36" stroke-opacity="1.00"/>
<line x1="258.6" y1="155.2" x2="309.8" y2="231.9" stroke="rgb(120,57,52)" stroke-width="0.36" stroke-opacity="0.98"/>
<line x1="253.9" y1="140.4" x2="304.9" y2="231.5" stroke="rgb(107,51,47)" stroke-width="0.36" stroke-opacity="0.96"/>
<line x1="255.6" y1="145.8" x2="303.0" y2="224.1" stroke="rgb(73,35,32)" stroke-width="0.36" stroke-opacity="0.94"/>
<line x1="256.0" y1="150.7" x2="309.6" y2="232.1" stroke="rgb(116,55,51)" stroke-width="0.36" stroke-opacity="0.81"/>
<line x1="254.0" y1="141.6" x2="308.5" y2="231.8" stroke="rgb(88,42,38)" stroke-width="0.36" stroke-opacity="0.85"/>
<line x1="254.6" y1="149.2" x2="312.9" y2="234.7" stroke="rgb(108,51,47)" stroke-width="0.36" stroke-opacity="0.82"/>
<line x1="251.8" y1="138.9" x2="310.7" y2="236.1" stroke="rgb(103,49,45)" stroke-width="0.36" stroke-opacity="0.96"/>
<line x1="251.4" y1="139.2" x2="308.2" y2="233.3" stroke="rgb(95,45,41)" stroke-width="0.36" stroke-opacity="0.78"/>
<line x1="262.0" y1="153.3" x2="309.9" y2="241.1" stroke="rgb(130,62,57)" stroke-width="0.36" stroke-opacity="0.97"/>
<line x1="241.8" y1="160.0" x2="319.9" y2="226.7" stroke="rgb(97,46,42)" stroke-width="0.36" stroke-opacity="0.72"/>
<line x1="246.3" y1="167.3" x2="319.7" y2="221.3" stroke="rgb(103,49,45)" stroke-width="0.36" stroke-opacity="0.81"/>
<line x1="241.3" y1="164.0" x2="321.4" y2="221.6" stroke="rgb(100,47,44)" stroke-width="0.36" stroke-opacity="0.71"/>
<line x1="241.2" y1="173.5" x2="324.3" y2="218.3" stroke="rgb(138,65,60)" stroke-width="0.36" stroke-opacity="0.94"/>
<line x1="238.9" y1="168.6" x2="322.4" y2="216.8" stroke="rgb(58,28,25)" stroke-width="0.36" stroke-opacity="0.71"/>
<line x1="246.1" y1="162.6" x2="314.6" y2="219.3" stroke="rgb(119,56,52)" stroke-width="0.36" stroke-opacity="0.80"/>
<line x1="242.2" y1="173.6" x2="314.9" y2="212.1" stroke="rgb(80,38,35)" stroke-width="0.36" stroke-opacity="0.91"/>
<line x1="243.1" y1="170.0" x2="313.2" y2="212.8" stroke="rgb(92,44,40)" stroke-width="0.36" stroke-opacity="0.83"/>
<line x1="237.4" y1="173.2" x2="319.4" y2="214.5" stroke="rgb(72,34,32)" stroke-width="0.36" stroke-opacity="0.88"/>
<line x1="248.1" y1="180.0" x2="314.4" y2="210.5" stroke="rgb(129,61,57)" stroke-width="0.36" stroke-opacity="0.75"/>
<line x1="241.9" y1="162.1" x2="315.6" y2="220.2" stroke="rgb(158,75,69)" stroke-width="0.36" stroke-opacity="0.94"/>
<line x1="240.6" y1="171.7" x2="317.9" y2="215.1" stroke="rgb(113,54,50)" stroke-width="0.36" stroke-opacity="0.80"/>
<line x1="244.6" y1="177.9" x2="325.7" y2="216.8" stroke="rgb(147,70,64)" stroke-width="0.36" stroke-opacity="0.79"/>
<line x1="237.7" y1="166.5" x2="323.4" y2="218.4" stroke="rgb(96,45,42)" stroke-width="0.36" stroke-opacity="0.78"/>
<line x1="248.4" y1="145.4" x2="323.5" y2="246.4" stroke="rgb(169,80,74)" stroke-width="0.36" stroke-opacity="0.87"/>
<line x1="243.4" y1="139.1" x2="321.3" y2="243.6" stroke="rgb(118,56,52)" stroke-width="0.36" stroke-opacity="0.81"/>
<line x1="241.6" y1="150.7" x2="316.2" y2="228.4" stroke="rgb(83,39,36)" stroke-width="0.36" stroke-opacity="0.73"/>
<line x1="243.9" y1="150.3" x2="314.7" y2="227.0" stroke="rgb(159,75,70)" stroke-width="0.36" stroke-opacity="0.97"/>
<line x1="245.4" y1="154.1" x2="326.5" y2="238.4" stroke="rgb(149,71,65)" stroke-width="0.36" stroke-opacity="0.80"/>
<line x1="233.9" y1="190.3" x2="364.1" y2="207.9" stroke="rgb(113,53,49)" stroke-width="0.36" stroke-opacity="0.96"/>
<line x1="229.9" y1="191.4" x2="339.7" y2="202.0" stroke="rgb(169,80,74)" stroke-width="0.36" stroke-opacity="0.73"/>
<line x1="250.8" y1="190.6" x2="358.1" y2="210.1" stroke="rgb(151,71,66)" stroke-width="0.36" stroke-opacity="0.95"/>
<line x1="248.6" y1="195.0" x2="361.8" y2="202.7" stroke="rgb(151,72,66)" stroke-width="0.36" stroke-opacity="0.99"/>
<line x1="241.6" y1="196.4" x2="335.1" y2="198.9" stroke="rgb(67,32,29)" stroke-width="0.36" stroke-opacity="0.72"/>
<line x1="234.1" y1="188.8" x2="343.5" y2="206.1" stroke="rgb(153,73,67)" stroke-width="0.36" stroke-opacity="0.93"/>
<line x1="250.5" y1="193.1" x2="334.4" y2="202.7" stroke="rgb(101,48,44)" stroke-width="0.36" stroke-opacity="0.97"/>
<line x1="244.2" y1="188.9" x2="341.3" y2="206.8" stroke="rgb(179,85,78)" stroke-width="0.36" stroke-opacity="0.95"/>
<line x1="254.1" y1="192.6" x2="335.6" y2="203.5" stroke="rgb(193,92,85)" stroke-width="0.36" stroke-opacity="0.71"/>
<line x1="245.1" y1="189.3" x2="335.5" y2="207.1" stroke="rgb(86,41,38)" stroke-width="0.36" stroke-opacity="0.77"/>
<line x1="231.9" y1="195.9" x2="344.7" y2="198.2" stroke="rgb(206,98,90)" stroke-width="0.36" stroke-opacity="0.97"/>
<line x1="243.6" y1="194.5" x2="335.0" y2="199.2" stroke="rgb(159,75,69)" stroke-width="0.36" stroke-opacity="0.71"/>
<line x1="248.6" y1="189.3" x2="352.5" y2="209.7" stroke="rgb(128,61,56)" stroke-width="0.36" stroke-opacity="0.79"/>
<line x1="230.3" y1="187.1" x2="365.4" y2="211.7" stroke="rgb(78,37,34)" stroke-width="0.36" stroke-opacity="0.76"/>
<line x1="241.8" y1="188.5" x2="355.6" y2="210.8" stroke="rgb(160,76,70)" stroke-width="0.36" stroke-opacity="0.78"/>
<line x1="249.9" y1="194.9" x2="334.4" y2="200.1" stroke="rgb(103,49,45)" stroke-width="0.36" stroke-opacity="1.00"/>
<line x1="239.1" y1="190.9" x2="364.4" y2="207.2" stroke="rgb(120,57,52)" stroke-width="0.36" stroke-opacity="0.79"/>
<line x1="233.6" y1="193.9" x2="362.8" y2="202.1" stroke="rgb(107,50,47)" stroke-width="0.36" stroke-opacity="0.80"/>
<line x1="240.5" y1="191.4" x2="340.1" y2="203.0" stroke="rgb(65,30,28)" stroke-width="0.36" stroke-opacity="0.77"/>
<line x1="254.6" y1="194.0" x2="334.1" y2="202.7" stroke="rgb(156,74,68)" stroke-width="0.36" stroke-opacity="0.79"/>
<line x1="233.2" y1="191.5" x2="336.9" y2="201.8" stroke="rgb(136,65,60)" stroke-width="0.36" stroke-opacity="0.94"/>
<line x1="251.9" y1="190.4" x2="358.7" y2="210.7" stroke="rgb(208,99,91)" stroke-width="0.36" stroke-opacity="0.95"/>
<line x1="242.6" y1="195.9" x2="363.7" y2="198.5" stroke="rgb(105,50,46)" stroke-width="0.36" stroke-opacity="0.97"/>
<line x1="255.6" y1="192.0" x2="342.5" y2="207.8" stroke="rgb(196,93,86)" stroke-width="0.36" stroke-opacity="0.94"/>
<line x1="241.7" y1="185.0" x2="349.2" y2="213.5" stroke="rgb(88,42,38)" stroke-width="0.36" stroke-opacity="0.83"/>
<line x1="243.1" y1="187.2" x2="331.5" y2="208.2" stroke="rgb(71,34,31)" stroke-width="0.36" stroke-opacity="0.99"/>
<line x1="245.7" y1="188.8" x2="355.6" y2="210.9" stroke="rgb(129,61,56)" stroke-width="0.36" stroke-opacity="0.82"/>
<line x1="256.1" y1="192.6" x2="347.4" y2="205.1" stroke="rgb(124,59,54)" stroke-width="0.36" stroke-opacity="0.87"/>
<line x1="253.8" y1="191.9" x2="326.5" y2="203.4" stroke="rgb(100,47,44)" stroke-width="0.36" stroke-opacity="0.95"/>
<line x1="244.3" y1="190.1" x2="330.8" y2="204.7" stroke="rgb(63,30,27)" stroke-width="0.36" stroke-opacity="0.86"/>
<line x1="247.7" y1="188.6" x2="349.0" y2="211.1" stroke="rgb(170,81,75)" stroke-width="0.36" stroke-opacity="0.77"/>
<line x1="251.9" y1="191.2" x2="337.9" y2="207.2" stroke="rgb(145,69,63)" stroke-width="0.36" stroke-opacity="0.97"/>
<line x1="243.5" y1="191.5" x2="323.4" y2="202.8" stroke="rgb(72,34,31)" stroke-width="0.36" stroke-opacity="0.85"/>
<line x1="241.1" y1="192.3" x2="356.8" y2="205.6" stroke="rgb(108,51,47)" stroke-width="0.36" stroke-opacity="0.91"/>
<line x1="242.4" y1="190.5" x2="350.9" y2="208.0" stroke="rgb(150,71,66)" stroke-width="0.36" stroke-opacity="0.96"/>
<line x1="245.1" y1="185.2" x2="328.5" y2="209.5" stroke="rgb(99,47,43)" stroke-width="0.36" stroke-opacity="0.77"/>
<line x1="255.5" y1="200.4" x2="325.4" y2="193.2" stroke="rgb(168,80,74)" stroke-width="0.36" stroke-opacity="0.80"/>
<line x1="241.9" y1="208.8" x2="303.0" y2="193.1" stroke="rgb(208,98,91)" stroke-width="0.36" stroke-opacity="0.94"/>
<line x1="238.3" y1="208.7" x2="335.2" y2="186.3" stroke="rgb(82,39,36)" stroke-width="0.36" stroke-opacity="0.93"/>
<line x1="242.5" y1="202.7" x2="317.1" y2="193.2" stroke="rgb(199,94,87)" stroke-width="0.36" stroke-opacity="0.99"/>
<line x1="247.9" y1="201.1" x2="307.3" y2="195.7" stroke="rgb(110,52,48)" stroke-width="0.36" stroke-opacity="0.74"/>
<line x1="254.1" y1="198.6" x2="322.5" y2="195.2" stroke="rgb(122,58,53)" stroke-width="0.36" stroke-opacity="0.74"/>
<line x1="241.4" y1="207.3" x2="301.5" y2="193.2" stroke="rgb(90,42,39)" stroke-width="0.36" stroke-opacity="0.83"/>
<line x1="244.4" y1="203.0" x2="330.7" y2="191.2" stroke="rgb(92,44,40)" stroke-width="0.36" stroke-opacity="0.79"/>
<line x1="244.9" y1="207.1" x2="310.3" y2="192.1" stroke="rgb(163,77,71)" stroke-width="0.36" stroke-opacity="0.94"/>
<line x1="245.6" y1="199.2" x2="318.7" y2="195.8" stroke="rgb(189,90,83)" stroke-width="0.36" stroke-opacity="0.93"/>
<line x1="254.2" y1="112.9" x2="310.5" y2="259.8" stroke="rgb(99,47,43)" stroke-width="0.5" stroke-opacity="0.9"/>
<line x1="228.5" y1="219.0" x2="359.5" y2="169.8" stroke="rgb(235,112,103)" stroke-width="0.5" stroke-opacity="0.9"/>
<line x1="216.8" y1="160.3" x2="355.5" y2="233.8" stroke="rgb(235,112,103)" stroke-width="0.5" stroke-opacity="0.9"/>
<line x1="231.5" y1="140.5" x2="344.5" y2="256.9" stroke="rgb(124,59,54)" stroke-width="0.5" stroke-opacity="0.9"/>
<polygon points="216.7,168.6 222.9,171.1 229.1,173.5 235.2,176.0 241.4,178.5 247.6,180.9 253.8,183.4 259.9,185.9 266.1,188.3 272.3,190.7 278.5,193.2 284.6,195.6 290.8,197.9 297.0,200.3 303.2,202.6 309.4,204.9 315.5,207.0 321.7,209.1 327.9,211.1 334.1,213.1 340.2,215.1 346.4,217.1 352.6,219.1 358.8,221.0 364.9,223.0 371.1,224.9 377.3,226.9 383.5,228.9 389.6,230.8 395.8,232.8 402.0,234.7 402.0,245.7 395.8,243.1 389.6,240.5 383.5,237.8 377.3,235.2 371.1,232.6 364.9,230.0 358.8,227.4 352.6,224.7 346.4,222.1 340.2,219.5 334.1,217.0 327.9,214.4 321.7,211.8 315.5,209.3 309.4,206.9 303.2,204.6 297.0,202.4 290.8,200.1 284.6,197.9 278.5,195.8 272.3,193.6 266.1,191.5 259.9,189.4 253.8,187.2 247.6,185.1 241.4,183.0 235.2,180.9 229.1,178.8 222.9,176.7 216.7,174.6" fill="#c4c4c4" fill-opacity="0.45"/>
<line x1="216.7" y1="171.6" x2="401.6" y2="240.2" stroke="#111" stroke-width="1.6"/>
<line x1="207.4" y1="109" x2="207.4" y2="268.1" stroke="#6a6a6a" stroke-width="0.9"/>
<line x1="203.8" y1="136.6" x2="207.4" y2="136.6" stroke="#6a6a6a" stroke-width="0.9"/>
<line x1="203.8" y1="167" x2="207.4" y2="167" stroke="#6a6a6a" stroke-width="0.9"/>
<line x1="203.8" y1="197.2" x2="207.4" y2="197.2" stroke="#6a6a6a" stroke-width="0.9"/>
<line x1="203.8" y1="227.6" x2="207.4" y2="227.6" stroke="#6a6a6a" stroke-width="0.9"/>
<line x1="203.8" y1="258.2" x2="207.4" y2="258.2" stroke="#6a6a6a" stroke-width="0.9"/>
<line x1="207.4" y1="268.1" x2="410.4" y2="268.1" stroke="#6a6a6a" stroke-width="0.9"/>
<line x1="242.4" y1="268.1" x2="242.4" y2="271.70000000000005" stroke="#6a6a6a" stroke-width="0.9"/>
<line x1="286.5" y1="268.1" x2="286.5" y2="271.70000000000005" stroke="#6a6a6a" stroke-width="0.9"/>
<line x1="330.5" y1="268.1" x2="330.5" y2="271.70000000000005" stroke="#6a6a6a" stroke-width="0.9"/>
<line x1="374.4" y1="268.1" x2="374.4" y2="271.70000000000005" stroke="#6a6a6a" stroke-width="0.9"/>
<text x="181.60" y="140.20" font-size="9.8" textLength="18.49" lengthAdjust="spacingAndGlyphs" fill="#231f20">0.02</text>
<text x="195.00" y="200.80" font-size="9.8" textLength="5.11" lengthAdjust="spacingAndGlyphs" fill="#231f20">0</text>
<text x="177.30" y="261.60" font-size="9.8" textLength="22.80" lengthAdjust="spacingAndGlyphs" fill="#231f20">−0.02</text>
<text x="234.25" y="281.80" font-size="10.0" textLength="15.49" lengthAdjust="spacingAndGlyphs" fill="#231f20">−0.1</text>
<text x="283.95" y="281.80" font-size="10.0" textLength="4.91" lengthAdjust="spacingAndGlyphs" fill="#231f20">0</text>
<text x="324.65" y="281.80" font-size="10.0" textLength="11.70" lengthAdjust="spacingAndGlyphs" fill="#231f20">0.1</text>
<text x="368.10" y="281.80" font-size="10.0" textLength="12.60" lengthAdjust="spacingAndGlyphs" fill="#231f20">0.2</text>
<text transform="translate(168.60,240.40) rotate(-90)" x="0.00" y="0" font-size="10.3" textLength="103.81" lengthAdjust="spacingAndGlyphs" fill="#231f20">Delta-band (residuals)</text>
<text x="263.00" y="299.10" font-size="10.2" textLength="92.39" lengthAdjust="spacingAndGlyphs" fill="#231f20">Aβ SUVR (residuals)</text>
<text x="306.20" y="141.90" font-size="10.0" textLength="2.76" lengthAdjust="spacingAndGlyphs" fill="#231f20" font-style="italic">t</text>
<text x="311.80" y="141.90" font-size="10.0" textLength="38.31" lengthAdjust="spacingAndGlyphs" fill="#231f20">= −14.69</text>
<text x="300.60" y="152.80" font-size="10.2" textLength="5.80" lengthAdjust="spacingAndGlyphs" fill="#231f20" font-style="italic">P</text>
<text x="306.20" y="156.60" font-size="7.2" textLength="12.80" lengthAdjust="spacingAndGlyphs" fill="#231f20">FDR</text>
<text x="322.20" y="152.80" font-size="10.0" textLength="32.99" lengthAdjust="spacingAndGlyphs" fill="#231f20">= 0.016</text>
<defs><linearGradient id="g5" x1="0" y1="0" x2="0" y2="1"><stop offset="0" stop-color="#f8766d"/><stop offset="1" stop-color="#000"/></linearGradient></defs>
<rect x="382.1" y="143.2" width="11.1" height="56" fill="url(#g5)"/>
<line x1="382.1" y1="155.6" x2="384.6" y2="155.6" stroke="#fff" stroke-width="0.6" opacity="0.8"/>
<line x1="390.70000000000005" y1="155.6" x2="393.20000000000005" y2="155.6" stroke="#fff" stroke-width="0.6" opacity="0.8"/>
<line x1="382.1" y1="171.1" x2="384.6" y2="171.1" stroke="#fff" stroke-width="0.6" opacity="0.8"/>
<line x1="390.70000000000005" y1="171.1" x2="393.20000000000005" y2="171.1" stroke="#fff" stroke-width="0.6" opacity="0.8"/>
<line x1="382.1" y1="186.8" x2="384.6" y2="186.8" stroke="#fff" stroke-width="0.6" opacity="0.8"/>
<line x1="390.70000000000005" y1="186.8" x2="393.20000000000005" y2="186.8" stroke="#fff" stroke-width="0.6" opacity="0.8"/>
<text x="372.80" y="126.70" font-size="9.8" textLength="46.81" lengthAdjust="spacingAndGlyphs" fill="#231f20">Entorhinal</text>
<text x="372.80" y="138.30" font-size="9.8" textLength="42.79" lengthAdjust="spacingAndGlyphs" fill="#231f20">tau SUVR</text>
<text x="396.30" y="158.40" font-size="8.0" textLength="10.30" lengthAdjust="spacingAndGlyphs" fill="#231f20">1.3</text>
<text x="396.30" y="173.90" font-size="8.0" textLength="9.00" lengthAdjust="spacingAndGlyphs" fill="#231f20">1.1</text>
<text x="396.30" y="189.60" font-size="8.0" textLength="13.10" lengthAdjust="spacingAndGlyphs" fill="#231f20">0.9</text>
<text transform="translate(377.70,183.60) rotate(-90)" x="0.00" y="0" font-size="9.4" textLength="24.81" lengthAdjust="spacingAndGlyphs" fill="#231f20">SUVR</text>
<line x1="242.3" y1="457.2" x2="311.0" y2="345.2" stroke="rgb(70,33,30)" stroke-width="0.36" stroke-opacity="0.95"/>
<line x1="249.6" y1="450.3" x2="313.8" y2="332.7" stroke="rgb(122,58,53)" stroke-width="0.36" stroke-opacity="0.87"/>
<line x1="249.2" y1="458.9" x2="315.3" y2="326.7" stroke="rgb(160,76,70)" stroke-width="0.36" stroke-opacity="0.98"/>
<line x1="250.4" y1="455.1" x2="310.1" y2="336.3" stroke="rgb(64,30,28)" stroke-width="0.36" stroke-opacity="0.84"/>
<line x1="243.1" y1="470.3" x2="313.0" y2="328.0" stroke="rgb(117,55,51)" stroke-width="0.36" stroke-opacity="0.77"/>
<line x1="251.8" y1="454.4" x2="313.2" y2="327.3" stroke="rgb(161,76,70)" stroke-width="0.36" stroke-opacity="0.90"/>
<line x1="244.3" y1="455.9" x2="315.8" y2="336.2" stroke="rgb(151,72,66)" stroke-width="0.36" stroke-opacity="0.93"/>
<line x1="244.7" y1="470.9" x2="315.8" y2="324.9" stroke="rgb(77,37,34)" stroke-width="0.36" stroke-opacity="0.93"/>
<line x1="247.9" y1="461.9" x2="314.2" y2="330.8" stroke="rgb(153,73,67)" stroke-width="0.36" stroke-opacity="0.85"/>
<line x1="245.1" y1="471.1" x2="316.2" y2="325.1" stroke="rgb(107,51,47)" stroke-width="0.36" stroke-opacity="0.87"/>
<line x1="247.3" y1="453.1" x2="311.2" y2="338.5" stroke="rgb(94,44,41)" stroke-width="0.36" stroke-opacity="0.91"/>
<line x1="251.1" y1="444.0" x2="316.9" y2="334.3" stroke="rgb(92,44,40)" stroke-width="0.36" stroke-opacity="0.99"/>
<line x1="246.9" y1="459.8" x2="314.2" y2="328.8" stroke="rgb(120,57,52)" stroke-width="0.36" stroke-opacity="0.79"/>
<line x1="242.5" y1="470.6" x2="315.0" y2="329.8" stroke="rgb(69,33,30)" stroke-width="0.36" stroke-opacity="0.95"/>
<line x1="247.3" y1="409.7" x2="333.3" y2="353.3" stroke="rgb(68,32,30)" stroke-width="0.36" stroke-opacity="0.90"/>
<line x1="234.1" y1="458.7" x2="314.0" y2="343.8" stroke="rgb(120,57,52)" stroke-width="0.36" stroke-opacity="0.96"/>
<line x1="234.2" y1="460.0" x2="320.3" y2="334.5" stroke="rgb(142,67,62)" stroke-width="0.36" stroke-opacity="0.71"/>
<line x1="238.8" y1="456.7" x2="314.1" y2="343.7" stroke="rgb(168,80,74)" stroke-width="0.36" stroke-opacity="0.71"/>
<line x1="246.7" y1="451.7" x2="316.4" y2="334.9" stroke="rgb(79,37,34)" stroke-width="0.36" stroke-opacity="0.76"/>
<line x1="250.1" y1="429.5" x2="325.7" y2="334.5" stroke="rgb(78,37,34)" stroke-width="0.36" stroke-opacity="0.71"/>
<line x1="237.0" y1="433.4" x2="314.5" y2="356.4" stroke="rgb(99,47,43)" stroke-width="0.36" stroke-opacity="0.71"/>
<line x1="237.4" y1="425.2" x2="338.5" y2="342.4" stroke="rgb(146,69,64)" stroke-width="0.36" stroke-opacity="0.96"/>
<line x1="246.8" y1="430.1" x2="329.4" y2="334.6" stroke="rgb(97,46,42)" stroke-width="0.36" stroke-opacity="0.73"/>
<line x1="248.4" y1="410.1" x2="328.3" y2="354.6" stroke="rgb(105,50,46)" stroke-width="0.36" stroke-opacity="0.85"/>
<line x1="246.3" y1="408.6" x2="329.4" y2="359.0" stroke="rgb(108,51,47)" stroke-width="0.36" stroke-opacity="0.71"/>
<line x1="250.3" y1="440.3" x2="312.4" y2="344.8" stroke="rgb(79,38,35)" stroke-width="0.36" stroke-opacity="0.73"/>
<line x1="232.4" y1="444.5" x2="330.9" y2="334.6" stroke="rgb(172,82,76)" stroke-width="0.36" stroke-opacity="0.77"/>
<line x1="239.6" y1="449.7" x2="321.2" y2="334.4" stroke="rgb(151,71,66)" stroke-width="0.36" stroke-opacity="0.91"/>
<line x1="240.6" y1="438.8" x2="310.7" y2="353.7" stroke="rgb(65,31,28)" stroke-width="0.36" stroke-opacity="0.82"/>
<line x1="246.3" y1="418.6" x2="313.8" y2="360.0" stroke="rgb(82,39,36)" stroke-width="0.36" stroke-opacity="0.77"/>
<line x1="243.0" y1="433.5" x2="321.1" y2="347.5" stroke="rgb(133,63,58)" stroke-width="0.36" stroke-opacity="0.76"/>
<line x1="236.9" y1="412.9" x2="323.8" y2="361.4" stroke="rgb(119,56,52)" stroke-width="0.36" stroke-opacity="0.87"/>
<line x1="241.5" y1="385.9" x2="337.5" y2="383.1" stroke="rgb(75,36,33)" stroke-width="0.36" stroke-opacity="0.94"/>
<line x1="230.4" y1="384.2" x2="352.6" y2="385.0" stroke="rgb(105,50,46)" stroke-width="0.36" stroke-opacity="1.00"/>
<line x1="237.0" y1="393.4" x2="334.8" y2="376.5" stroke="rgb(107,51,47)" stroke-width="0.36" stroke-opacity="0.95"/>
<line x1="243.6" y1="392.2" x2="345.6" y2="374.4" stroke="rgb(134,63,59)" stroke-width="0.36" stroke-opacity="0.76"/>
<line x1="248.3" y1="390.8" x2="344.3" y2="376.0" stroke="rgb(201,95,88)" stroke-width="0.36" stroke-opacity="0.72"/>
<line x1="240.2" y1="389.7" x2="344.9" y2="378.1" stroke="rgb(130,62,57)" stroke-width="0.36" stroke-opacity="0.93"/>
<line x1="252.9" y1="389.7" x2="334.1" y2="378.6" stroke="rgb(188,89,82)" stroke-width="0.36" stroke-opacity="0.89"/>
<line x1="255.5" y1="382.6" x2="354.3" y2="389.4" stroke="rgb(177,84,78)" stroke-width="0.36" stroke-opacity="0.92"/>
<line x1="243.4" y1="386.9" x2="359.2" y2="380.9" stroke="rgb(102,48,44)" stroke-width="0.36" stroke-opacity="0.86"/>
<line x1="233.7" y1="375.8" x2="363.9" y2="397.1" stroke="rgb(186,88,81)" stroke-width="0.36" stroke-opacity="0.79"/>
<line x1="248.9" y1="384.9" x2="346.2" y2="384.5" stroke="rgb(163,77,71)" stroke-width="0.36" stroke-opacity="0.98"/>
<line x1="253.5" y1="380.9" x2="343.7" y2="391.2" stroke="rgb(210,100,92)" stroke-width="0.36" stroke-opacity="0.74"/>
<line x1="253.7" y1="389.4" x2="362.5" y2="372.4" stroke="rgb(209,99,91)" stroke-width="0.36" stroke-opacity="0.89"/>
<line x1="249.7" y1="387.4" x2="354.7" y2="379.7" stroke="rgb(163,77,71)" stroke-width="0.36" stroke-opacity="0.83"/>
<line x1="241.1" y1="391.0" x2="364.5" y2="373.8" stroke="rgb(174,83,76)" stroke-width="0.36" stroke-opacity="0.73"/>
<line x1="249.0" y1="381.7" x2="362.5" y2="390.5" stroke="rgb(130,62,57)" stroke-width="0.36" stroke-opacity="0.91"/>
<line x1="234.4" y1="375.0" x2="351.4" y2="395.8" stroke="rgb(83,39,36)" stroke-width="0.36" stroke-opacity="0.83"/>
<line x1="231.5" y1="382.7" x2="337.5" y2="386.4" stroke="rgb(137,65,60)" stroke-width="0.36" stroke-opacity="0.84"/>
<line x1="230.0" y1="380.3" x2="355.9" y2="389.8" stroke="rgb(132,62,58)" stroke-width="0.36" stroke-opacity="0.99"/>
<line x1="237.8" y1="380.5" x2="357.8" y2="391.2" stroke="rgb(188,89,82)" stroke-width="0.36" stroke-opacity="0.77"/>
<line x1="237.5" y1="386.4" x2="365.4" y2="381.9" stroke="rgb(156,74,68)" stroke-width="0.36" stroke-opacity="0.70"/>
<line x1="231.4" y1="381.0" x2="353.9" y2="390.3" stroke="rgb(183,87,80)" stroke-width="0.36" stroke-opacity="0.71"/>
<line x1="239.2" y1="381.1" x2="362.9" y2="391.3" stroke="rgb(193,92,85)" stroke-width="0.36" stroke-opacity="0.73"/>
<line x1="250.6" y1="381.6" x2="357.2" y2="391.8" stroke="rgb(149,71,65)" stroke-width="0.36" stroke-opacity="0.76"/>
<line x1="239.1" y1="390.8" x2="346.4" y2="376.8" stroke="rgb(99,47,43)" stroke-width="0.36" stroke-opacity="0.87"/>
<line x1="229.2" y1="391.1" x2="333.8" y2="380.0" stroke="rgb(62,29,27)" stroke-width="0.36" stroke-opacity="0.85"/>
<line x1="235.1" y1="381.6" x2="348.2" y2="388.0" stroke="rgb(162,77,71)" stroke-width="0.36" stroke-opacity="0.80"/>
<line x1="255.4" y1="384.9" x2="334.0" y2="385.0" stroke="rgb(174,82,76)" stroke-width="0.36" stroke-opacity="0.75"/>
<line x1="244.9" y1="380.1" x2="354.9" y2="391.4" stroke="rgb(179,85,78)" stroke-width="0.36" stroke-opacity="0.96"/>
<line x1="245.5" y1="389.7" x2="347.5" y2="377.3" stroke="rgb(105,50,46)" stroke-width="0.36" stroke-opacity="0.70"/>
<line x1="245.9" y1="378.3" x2="350.0" y2="395.8" stroke="rgb(118,56,52)" stroke-width="0.36" stroke-opacity="0.83"/>
<line x1="238.0" y1="387.6" x2="348.1" y2="380.0" stroke="rgb(142,67,62)" stroke-width="0.36" stroke-opacity="0.97"/>
<line x1="247.7" y1="380.1" x2="353.8" y2="392.5" stroke="rgb(180,85,79)" stroke-width="0.36" stroke-opacity="0.90"/>
<line x1="253.6" y1="381.0" x2="353.3" y2="393.3" stroke="rgb(120,57,52)" stroke-width="0.36" stroke-opacity="0.86"/>
<line x1="238.6" y1="379.3" x2="342.0" y2="390.4" stroke="rgb(96,45,42)" stroke-width="0.36" stroke-opacity="0.84"/>
<line x1="229.4" y1="389.1" x2="335.1" y2="380.6" stroke="rgb(183,87,80)" stroke-width="0.36" stroke-opacity="0.81"/>
<line x1="254.0" y1="386.6" x2="347.2" y2="380.5" stroke="rgb(86,41,38)" stroke-width="0.36" stroke-opacity="0.83"/>
<line x1="230.4" y1="376.6" x2="346.7" y2="393.1" stroke="rgb(157,74,69)" stroke-width="0.36" stroke-opacity="0.98"/>
<line x1="249.5" y1="389.8" x2="337.8" y2="377.1" stroke="rgb(162,77,71)" stroke-width="0.36" stroke-opacity="0.81"/>
<line x1="249.6" y1="381.1" x2="359.5" y2="392.8" stroke="rgb(156,74,68)" stroke-width="0.36" stroke-opacity="0.82"/>
<line x1="231.6" y1="388.2" x2="363.6" y2="380.8" stroke="rgb(136,65,60)" stroke-width="0.36" stroke-opacity="0.91"/>
<line x1="235.1" y1="380.7" x2="361.6" y2="391.8" stroke="rgb(201,95,88)" stroke-width="0.36" stroke-opacity="0.93"/>
<line x1="243.8" y1="374.0" x2="339.7" y2="397.4" stroke="rgb(116,55,51)" stroke-width="0.36" stroke-opacity="0.82"/>
<line x1="249.0" y1="370.6" x2="335.6" y2="404.5" stroke="rgb(194,92,85)" stroke-width="0.36" stroke-opacity="0.76"/>
<line x1="255.6" y1="378.7" x2="333.1" y2="394.9" stroke="rgb(115,54,50)" stroke-width="0.36" stroke-opacity="0.98"/>
<line x1="247.5" y1="371.1" x2="337.1" y2="402.3" stroke="rgb(97,46,42)" stroke-width="0.36" stroke-opacity="0.95"/>
<line x1="243.5" y1="373.9" x2="329.3" y2="394.7" stroke="rgb(109,51,47)" stroke-width="0.36" stroke-opacity="0.98"/>
<line x1="228.2" y1="351.6" x2="361.2" y2="427.4" stroke="rgb(235,112,103)" stroke-width="0.5" stroke-opacity="0.9"/>
<line x1="216.2" y1="412.7" x2="349.2" y2="359.5" stroke="rgb(235,112,103)" stroke-width="0.5" stroke-opacity="0.9"/>
<line x1="246.2" y1="388.1" x2="400.2" y2="375.0" stroke="rgb(210,100,92)" stroke-width="0.5" stroke-opacity="0.9"/>
<polygon points="216.2,401.7 222.4,400.2 228.5,398.6 234.7,397.1 240.9,395.5 247.0,393.9 253.2,392.4 259.4,390.8 265.6,389.2 271.7,387.7 277.9,386.1 284.1,384.5 290.2,382.9 296.4,381.3 302.6,379.6 308.8,377.9 314.9,376.2 321.1,374.4 327.3,372.6 333.4,370.8 339.6,368.9 345.8,367.1 351.9,365.2 358.1,363.4 364.3,361.5 370.5,359.6 376.6,357.8 382.8,355.9 389.0,354.0 395.1,352.2 401.3,350.3 401.3,358.7 395.1,360.1 389.0,361.5 382.8,362.9 376.6,364.2 370.5,365.6 364.3,367.0 358.1,368.4 351.9,369.8 345.8,371.2 339.6,372.6 333.4,374.0 327.3,375.4 321.1,376.9 314.9,378.4 308.8,379.9 302.6,381.4 296.4,383.1 290.2,384.7 284.1,386.3 277.9,388.0 271.7,389.7 265.6,391.3 259.4,393.0 253.2,394.7 247.0,396.4 240.9,398.1 234.7,399.8 228.5,401.5 222.4,403.2 216.2,404.9" fill="#c4c4c4" fill-opacity="0.45"/>
<line x1="216.2" y1="403.3" x2="401.3" y2="354.5" stroke="#111" stroke-width="1.6"/>
<line x1="207.4" y1="319" x2="207.4" y2="478" stroke="#6a6a6a" stroke-width="0.9"/>
<line x1="203.8" y1="344.3" x2="207.4" y2="344.3" stroke="#6a6a6a" stroke-width="0.9"/>
<line x1="203.8" y1="384.9" x2="207.4" y2="384.9" stroke="#6a6a6a" stroke-width="0.9"/>
<line x1="203.8" y1="426.1" x2="207.4" y2="426.1" stroke="#6a6a6a" stroke-width="0.9"/>
<line x1="203.8" y1="466.9" x2="207.4" y2="466.9" stroke="#6a6a6a" stroke-width="0.9"/>
<line x1="207.4" y1="478" x2="410.5" y2="478" stroke="#6a6a6a" stroke-width="0.9"/>
<line x1="241.4" y1="478" x2="241.4" y2="481.6" stroke="#6a6a6a" stroke-width="0.9"/>
<line x1="286" y1="478" x2="286" y2="481.6" stroke="#6a6a6a" stroke-width="0.9"/>
<line x1="330.7" y1="478" x2="330.7" y2="481.6" stroke="#6a6a6a" stroke-width="0.9"/>
<line x1="374.5" y1="478" x2="374.5" y2="481.6" stroke="#6a6a6a" stroke-width="0.9"/>
<text x="181.60" y="347.90" font-size="9.8" textLength="18.49" lengthAdjust="spacingAndGlyphs" fill="#231f20">0.02</text>
<text x="195.00" y="388.50" font-size="9.8" textLength="5.11" lengthAdjust="spacingAndGlyphs" fill="#231f20">0</text>
<text x="177.30" y="429.70" font-size="9.8" textLength="22.80" lengthAdjust="spacingAndGlyphs" fill="#231f20">−0.02</text>
<text x="177.30" y="470.60" font-size="9.8" textLength="22.80" lengthAdjust="spacingAndGlyphs" fill="#231f20">−0.04</text>
<text x="233.65" y="491.80" font-size="10.0" textLength="15.49" lengthAdjust="spacingAndGlyphs" fill="#231f20">−0.1</text>
<text x="283.55" y="491.80" font-size="10.0" textLength="4.91" lengthAdjust="spacingAndGlyphs" fill="#231f20">0</text>
<text x="324.85" y="491.80" font-size="10.0" textLength="11.70" lengthAdjust="spacingAndGlyphs" fill="#231f20">0.1</text>
<text x="368.20" y="491.80" font-size="10.0" textLength="12.60" lengthAdjust="spacingAndGlyphs" fill="#231f20">0.2</text>
<text transform="translate(168.60,451.40) rotate(-90)" x="0.00" y="0" font-size="10.3" textLength="105.59" lengthAdjust="spacingAndGlyphs" fill="#231f20">Alpha-band (residuals)</text>
<text x="263.30" y="508.00" font-size="10.2" textLength="91.19" lengthAdjust="spacingAndGlyphs" fill="#231f20">Aβ SUVR (residuals)</text>
<text x="297.10" y="443.40" font-size="10.0" textLength="2.76" lengthAdjust="spacingAndGlyphs" fill="#231f20" font-style="italic">t</text>
<text x="302.60" y="443.40" font-size="10.0" textLength="32.39" lengthAdjust="spacingAndGlyphs" fill="#231f20">= 14.23</text>
<text x="297.00" y="455.80" font-size="10.2" textLength="5.80" lengthAdjust="spacingAndGlyphs" fill="#231f20" font-style="italic">P</text>
<text x="303.00" y="459.00" font-size="7.2" textLength="12.50" lengthAdjust="spacingAndGlyphs" fill="#231f20">FDR</text>
<text x="318.10" y="455.80" font-size="10.0" textLength="34.19" lengthAdjust="spacingAndGlyphs" fill="#231f20">= 0.016</text>
<defs><linearGradient id="g6" x1="0" y1="0" x2="0" y2="1"><stop offset="0" stop-color="#f8766d"/><stop offset="1" stop-color="#000"/></linearGradient></defs>
<rect x="382.2" y="411.9" width="10.8" height="56.7" fill="url(#g6)"/>
<line x1="382.2" y1="424.8" x2="384.7" y2="424.8" stroke="#fff" stroke-width="0.6" opacity="0.8"/>
<line x1="390.5" y1="424.8" x2="393.0" y2="424.8" stroke="#fff" stroke-width="0.6" opacity="0.8"/>
<line x1="382.2" y1="440.3" x2="384.7" y2="440.3" stroke="#fff" stroke-width="0.6" opacity="0.8"/>
<line x1="390.5" y1="440.3" x2="393.0" y2="440.3" stroke="#fff" stroke-width="0.6" opacity="0.8"/>
<line x1="382.2" y1="455.7" x2="384.7" y2="455.7" stroke="#fff" stroke-width="0.6" opacity="0.8"/>
<line x1="390.5" y1="455.7" x2="393.0" y2="455.7" stroke="#fff" stroke-width="0.6" opacity="0.8"/>
<text x="372.20" y="394.30" font-size="9.8" textLength="46.81" lengthAdjust="spacingAndGlyphs" fill="#231f20">Entorhinal</text>
<text x="372.20" y="406.60" font-size="9.8" textLength="42.79" lengthAdjust="spacingAndGlyphs" fill="#231f20">tau SUVR</text>
<text x="395.40" y="427.60" font-size="8.0" textLength="10.30" lengthAdjust="spacingAndGlyphs" fill="#231f20">1.3</text>
<text x="395.40" y="443.10" font-size="8.0" textLength="9.00" lengthAdjust="spacingAndGlyphs" fill="#231f20">1.1</text>
<text x="395.40" y="458.50" font-size="8.0" textLength="13.10" lengthAdjust="spacingAndGlyphs" fill="#231f20">0.9</text>
<text transform="translate(376.80,453.00) rotate(-90)" x="0.00" y="0" font-size="9.4" textLength="24.81" lengthAdjust="spacingAndGlyphs" fill="#231f20">SUVR</text>
<polygon points="499.3,113.1 505.2,118.0 511.1,122.8 517.0,127.7 522.9,132.5 528.8,137.4 534.7,142.2 540.6,147.0 546.5,151.8 552.4,156.4 558.3,160.9 564.2,165.2 570.1,169.2 576.0,173.0 581.9,176.8 587.8,180.6 593.6,184.3 599.5,188.0 605.4,191.7 611.3,195.5 617.2,199.2 623.1,202.9 629.0,206.6 634.9,210.3 640.8,214.0 646.7,217.7 652.6,221.4 658.5,225.1 664.4,228.8 670.3,232.5 676.2,236.2 676.2,259.2 670.3,254.3 664.4,249.5 658.5,244.6 652.6,239.8 646.7,234.9 640.8,230.1 634.9,225.2 629.0,220.4 623.1,215.5 617.2,210.7 611.3,205.8 605.4,201.0 599.5,196.2 593.6,191.3 587.8,186.5 581.9,181.7 576.0,177.0 570.1,172.3 564.2,167.7 558.3,163.3 552.4,159.2 546.5,155.2 540.6,151.3 534.7,147.4 528.8,143.5 522.9,139.7 517.0,135.9 511.1,132.0 505.2,128.2 499.3,124.4" fill="#000" fill-opacity="0.42"/>
<line x1="499.3" y1="119.1" x2="676.2" y2="248.2" stroke="#000" stroke-width="2.4"/>
<polygon points="488.0,118.3 493.0,121.3 498.0,124.3 502.9,127.3 507.9,130.3 512.9,133.3 517.9,136.3 522.9,139.3 527.8,142.2 532.8,145.2 537.8,148.1 542.8,151.0 547.8,153.7 552.7,156.4 557.7,158.8 562.7,160.8 567.7,162.5 572.7,163.9 577.6,165.1 582.6,166.3 587.6,167.5 592.6,168.6 597.6,169.7 602.5,170.8 607.5,171.8 612.5,172.9 617.5,174.0 622.5,175.0 627.4,176.1 632.4,177.1 637.4,178.2 637.4,209.9 632.4,206.9 627.4,203.8 622.5,200.8 617.5,197.8 612.5,194.7 607.5,191.7 602.5,188.7 597.6,185.7 592.6,182.7 587.6,179.7 582.6,176.7 577.6,173.8 572.7,171.0 567.7,168.3 562.7,165.9 557.7,163.8 552.7,162.1 547.8,160.6 542.8,159.3 537.8,158.0 532.8,156.8 527.8,155.6 522.9,154.4 517.9,153.3 512.9,152.1 507.9,151.0 502.9,149.9 498.0,148.7 493.0,147.6 488.0,146.5" fill="#f8766d" fill-opacity="0.42"/>
<line x1="488" y1="132.7" x2="637.4" y2="194" stroke="#f8766d" stroke-width="1.9"/>
<line x1="479" y1="105.5" x2="479" y2="268.1" stroke="#6a6a6a" stroke-width="0.9"/>
<line x1="475.4" y1="107.4" x2="479" y2="107.4" stroke="#6a6a6a" stroke-width="0.9"/>
<line x1="475.4" y1="162.3" x2="479" y2="162.3" stroke="#6a6a6a" stroke-width="0.9"/>
<line x1="475.4" y1="217.3" x2="479" y2="217.3" stroke="#6a6a6a" stroke-width="0.9"/>
<line x1="479" y1="268.1" x2="684" y2="268.1" stroke="#6a6a6a" stroke-width="0.9"/>
<line x1="514" y1="268.1" x2="514" y2="271.70000000000005" stroke="#6a6a6a" stroke-width="0.9"/>
<line x1="559" y1="268.1" x2="559" y2="271.70000000000005" stroke="#6a6a6a" stroke-width="0.9"/>
<line x1="604" y1="268.1" x2="604" y2="271.70000000000005" stroke="#6a6a6a" stroke-width="0.9"/>
<line x1="649" y1="268.1" x2="649" y2="271.70000000000005" stroke="#6a6a6a" stroke-width="0.9"/>
<text x="454.80" y="111.00" font-size="9.8" textLength="16.89" lengthAdjust="spacingAndGlyphs" fill="#231f20">0.01</text>
<text x="466.60" y="165.90" font-size="9.8" textLength="5.11" lengthAdjust="spacingAndGlyphs" fill="#231f20">0</text>
<text x="450.50" y="220.90" font-size="9.8" textLength="21.20" lengthAdjust="spacingAndGlyphs" fill="#231f20">−0.01</text>
<text x="505.95" y="281.90" font-size="10.0" textLength="15.69" lengthAdjust="spacingAndGlyphs" fill="#231f20">−0.1</text>
<text x="556.65" y="281.90" font-size="10.0" textLength="4.91" lengthAdjust="spacingAndGlyphs" fill="#231f20">0</text>
<text x="598.60" y="281.90" font-size="10.0" textLength="10.80" lengthAdjust="spacingAndGlyphs" fill="#231f20">0.1</text>
<text x="642.30" y="281.90" font-size="10.0" textLength="13.00" lengthAdjust="spacingAndGlyphs" fill="#231f20">0.2</text>
<text transform="translate(441.80,238.00) rotate(-90)" x="0.00" y="0" font-size="10.3" textLength="103.81" lengthAdjust="spacingAndGlyphs" fill="#231f20">Delta-band (residuals)</text>
<text x="535.80" y="299.10" font-size="10.2" textLength="92.49" lengthAdjust="spacingAndGlyphs" fill="#231f20">Aβ SUVR (residuals)</text>
<rect x="488" y="216" width="9" height="8.8" fill="#000"/>
<rect x="488" y="231" width="9" height="8.8" fill="#f8766d"/>
<text x="502.00" y="223.40" font-size="9.8" textLength="21.49" lengthAdjust="spacingAndGlyphs" fill="#231f20">Tau–</text>
<text x="502.00" y="238.50" font-size="9.8" textLength="22.19" lengthAdjust="spacingAndGlyphs" fill="#231f20">Tau+</text>
<text x="590.80" y="140.80" font-size="10.0" textLength="2.76" lengthAdjust="spacingAndGlyphs" fill="#231f20" font-style="italic">t</text>
<text x="596.30" y="140.80" font-size="10.0" textLength="28.61" lengthAdjust="spacingAndGlyphs" fill="#231f20">= 4.33</text>
<text x="591.00" y="152.50" font-size="10.2" textLength="5.80" lengthAdjust="spacingAndGlyphs" fill="#231f20" font-style="italic">P</text>
<text x="597.00" y="155.30" font-size="7.2" textLength="12.20" lengthAdjust="spacingAndGlyphs" fill="#231f20">FDR</text>
<text x="613.00" y="152.50" font-size="10.0" textLength="33.79" lengthAdjust="spacingAndGlyphs" fill="#231f20">&lt; 0.001</text>
<polygon points="499.0,458.2 504.8,454.4 510.7,450.7 516.5,446.9 522.4,443.1 528.2,439.3 534.0,435.5 539.9,431.7 545.7,427.8 551.6,423.9 557.4,419.7 563.2,415.3 569.1,410.7 574.9,406.0 580.8,401.2 586.6,396.4 592.4,391.5 598.3,386.7 604.1,381.8 610.0,377.0 615.8,372.1 621.6,367.2 627.5,362.4 633.3,357.5 639.2,352.6 645.0,347.8 650.8,342.9 656.7,338.0 662.5,333.1 668.4,328.3 674.2,323.4 674.2,347.4 668.4,351.1 662.5,354.8 656.7,358.4 650.8,362.1 645.0,365.8 639.2,369.5 633.3,373.2 627.5,376.9 621.6,380.5 615.8,384.2 610.0,387.9 604.1,391.6 598.3,395.3 592.4,399.0 586.6,402.7 580.8,406.5 574.9,410.2 569.1,414.0 563.2,418.0 557.4,422.1 551.6,426.6 545.7,431.3 539.9,436.0 534.0,440.9 528.2,445.7 522.4,450.6 516.5,455.4 510.7,460.3 504.8,465.2 499.0,470.1" fill="#000" fill-opacity="0.42"/>
<line x1="499" y1="463.6" x2="674.2" y2="335.6" stroke="#000" stroke-width="2.4"/>
<polygon points="487.5,434.5 492.5,433.5 497.4,432.6 502.4,431.6 507.3,430.7 512.3,429.7 517.2,428.7 522.2,427.7 527.2,426.7 532.1,425.7 537.1,424.6 542.0,423.5 547.0,422.4 551.9,421.0 556.9,419.5 561.9,417.7 566.8,415.7 571.8,413.6 576.7,411.4 581.7,409.1 586.6,406.7 591.6,404.3 596.5,402.0 601.5,399.6 606.5,397.1 611.4,394.7 616.4,392.3 621.3,389.9 626.3,387.5 631.2,385.0 636.2,382.6 636.2,405.7 631.2,406.7 626.3,407.8 621.3,408.8 616.4,409.8 611.4,410.9 606.5,411.9 601.5,413.0 596.5,414.0 591.6,415.1 586.6,416.2 581.7,417.3 576.7,418.5 571.8,419.7 566.8,421.0 561.9,422.5 556.9,424.1 551.9,426.0 547.0,428.1 542.0,430.3 537.1,432.6 532.1,434.9 527.2,437.3 522.2,439.7 517.2,442.1 512.3,444.5 507.3,446.9 502.4,449.4 497.4,451.8 492.5,454.3 487.5,456.7" fill="#f8766d" fill-opacity="0.42"/>
<line x1="487.5" y1="445.7" x2="636.2" y2="394.5" stroke="#f8766d" stroke-width="1.9"/>
<line x1="479" y1="316.5" x2="479" y2="478" stroke="#6a6a6a" stroke-width="0.9"/>
<line x1="475.4" y1="318.5" x2="479" y2="318.5" stroke="#6a6a6a" stroke-width="0.9"/>
<line x1="475.4" y1="369.7" x2="479" y2="369.7" stroke="#6a6a6a" stroke-width="0.9"/>
<line x1="475.4" y1="420.6" x2="479" y2="420.6" stroke="#6a6a6a" stroke-width="0.9"/>
<line x1="475.4" y1="471.6" x2="479" y2="471.6" stroke="#6a6a6a" stroke-width="0.9"/>
<line x1="479" y1="478" x2="683.5" y2="478" stroke="#6a6a6a" stroke-width="0.9"/>
<line x1="513.4" y1="478" x2="513.4" y2="481.6" stroke="#6a6a6a" stroke-width="0.9"/>
<line x1="558" y1="478" x2="558" y2="481.6" stroke="#6a6a6a" stroke-width="0.9"/>
<line x1="602.7" y1="478" x2="602.7" y2="481.6" stroke="#6a6a6a" stroke-width="0.9"/>
<line x1="646.6" y1="478" x2="646.6" y2="481.6" stroke="#6a6a6a" stroke-width="0.9"/>
<text x="454.20" y="322.10" font-size="9.8" textLength="17.49" lengthAdjust="spacingAndGlyphs" fill="#231f20">0.02</text>
<text x="454.80" y="373.30" font-size="9.8" textLength="16.89" lengthAdjust="spacingAndGlyphs" fill="#231f20">0.01</text>
<text x="466.60" y="424.20" font-size="9.8" textLength="5.11" lengthAdjust="spacingAndGlyphs" fill="#231f20">0</text>
<text x="450.50" y="475.20" font-size="9.8" textLength="21.20" lengthAdjust="spacingAndGlyphs" fill="#231f20">−0.01</text>
<text x="505.40" y="491.80" font-size="10.0" textLength="16.19" lengthAdjust="spacingAndGlyphs" fill="#231f20">−0.1</text>
<text x="554.80" y="491.80" font-size="10.0" textLength="5.21" lengthAdjust="spacingAndGlyphs" fill="#231f20">0</text>
<text x="597.20" y="491.80" font-size="10.0" textLength="11.40" lengthAdjust="spacingAndGlyphs" fill="#231f20">0.1</text>
<text x="640.95" y="491.80" font-size="10.0" textLength="12.90" lengthAdjust="spacingAndGlyphs" fill="#231f20">0.2</text>
<text transform="translate(441.80,449.10) rotate(-90)" x="0.00" y="0" font-size="10.3" textLength="105.59" lengthAdjust="spacingAndGlyphs" fill="#231f20">Alpha-band (residuals)</text>
<text x="535.30" y="508.00" font-size="10.2" textLength="91.59" lengthAdjust="spacingAndGlyphs" fill="#231f20">Aβ SUVR (residuals)</text>
<rect x="487.6" y="319" width="9.5" height="9" fill="#000"/>
<rect x="487.6" y="334.6" width="9.5" height="8.8" fill="#f8766d"/>
<text x="502.30" y="326.90" font-size="9.8" textLength="21.39" lengthAdjust="spacingAndGlyphs" fill="#231f20">Tau–</text>
<text x="502.30" y="342.20" font-size="9.8" textLength="22.09" lengthAdjust="spacingAndGlyphs" fill="#231f20">Tau+</text>
<text x="591.80" y="443.40" font-size="10.0" textLength="2.76" lengthAdjust="spacingAndGlyphs" fill="#231f20" font-style="italic">t</text>
<text x="597.30" y="443.40" font-size="10.0" textLength="33.50" lengthAdjust="spacingAndGlyphs" fill="#231f20">= −5.46</text>
<text x="591.80" y="455.90" font-size="10.2" textLength="5.80" lengthAdjust="spacingAndGlyphs" fill="#231f20" font-style="italic">P</text>
<text x="598.00" y="459.00" font-size="7.2" textLength="12.00" lengthAdjust="spacingAndGlyphs" fill="#231f20">FDR</text>
<text x="613.60" y="455.90" font-size="10.0" textLength="33.49" lengthAdjust="spacingAndGlyphs" fill="#231f20">&lt; 0.001</text>
</svg></body></html>
